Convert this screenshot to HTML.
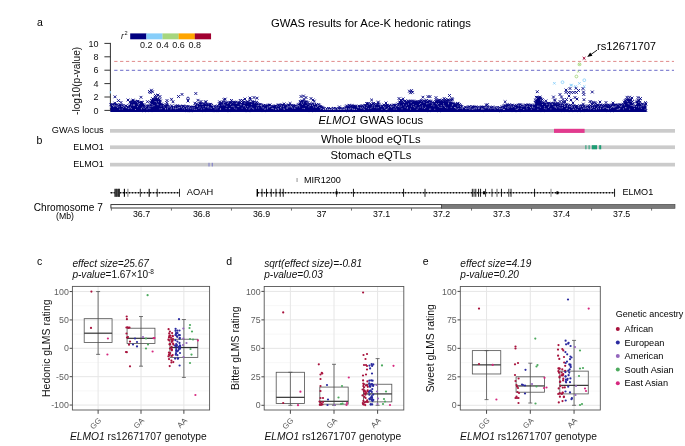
<!DOCTYPE html>
<html><head><meta charset="utf-8"><style>
html,body{margin:0;padding:0;background:#fff;overflow:hidden;width:685px;height:446px;}
svg{display:block;font-family:"Liberation Sans", sans-serif;filter:blur(0.3px);}
</style></head><body>
<svg width="685" height="446" viewBox="0 0 685 446">
<rect width="685" height="446" fill="#fff"/>
<text x="37.00" y="26.40" font-size="10.5" text-anchor="start" fill="#000" >a</text>
<text x="271.00" y="26.60" font-size="11.3" text-anchor="start" fill="#000" >GWAS results for Ace-K hedonic ratings</text>
<line x1="110.4" y1="42.90" x2="110.4" y2="110.90" stroke="#333" stroke-width="1"/>
<line x1="104.4" y1="110.40" x2="110.4" y2="110.40" stroke="#333" stroke-width="1"/>
<text x="98.50" y="113.60" font-size="9" text-anchor="end" fill="#111" >0</text>
<line x1="104.4" y1="97.00" x2="110.4" y2="97.00" stroke="#333" stroke-width="1"/>
<text x="98.50" y="100.20" font-size="9" text-anchor="end" fill="#111" >2</text>
<line x1="104.4" y1="83.60" x2="110.4" y2="83.60" stroke="#333" stroke-width="1"/>
<text x="98.50" y="86.80" font-size="9" text-anchor="end" fill="#111" >4</text>
<line x1="104.4" y1="70.20" x2="110.4" y2="70.20" stroke="#333" stroke-width="1"/>
<text x="98.50" y="73.40" font-size="9" text-anchor="end" fill="#111" >6</text>
<line x1="104.4" y1="56.80" x2="110.4" y2="56.80" stroke="#333" stroke-width="1"/>
<text x="98.50" y="60.00" font-size="9" text-anchor="end" fill="#111" >8</text>
<line x1="104.4" y1="43.40" x2="110.4" y2="43.40" stroke="#333" stroke-width="1"/>
<text x="98.50" y="46.60" font-size="9" text-anchor="end" fill="#111" >10</text>
<text transform="translate(80.2,80.9) rotate(-90)" font-size="10.15" text-anchor="middle" fill="#111">-log10(p-value)</text>
<line x1="114.2" y1="61.4" x2="674" y2="61.4" stroke="#e08a8a" stroke-width="1" stroke-dasharray="3.3 2.57"/>
<line x1="114.2" y1="70.3" x2="674" y2="70.3" stroke="#6b6bc8" stroke-width="1" stroke-dasharray="3.3 2.57"/>
<rect x="130.20" y="33.4" width="16.25" height="5.9" fill="#000080"/>
<rect x="146.35" y="33.4" width="16.25" height="5.9" fill="#87cefa"/>
<rect x="162.50" y="33.4" width="16.25" height="5.9" fill="#a6d67e"/>
<rect x="178.65" y="33.4" width="16.25" height="5.9" fill="#ffa500"/>
<rect x="194.80" y="33.4" width="16.25" height="5.9" fill="#a00030"/>
<text x="146.30" y="47.90" font-size="9.0" text-anchor="middle" fill="#111" >0.2</text>
<text x="162.45" y="47.90" font-size="9.0" text-anchor="middle" fill="#111" >0.4</text>
<text x="178.60" y="47.90" font-size="9.0" text-anchor="middle" fill="#111" >0.6</text>
<text x="194.75" y="47.90" font-size="9.0" text-anchor="middle" fill="#111" >0.8</text>
<text x="121" y="38.8" font-size="8.6" font-style="italic" fill="#111">r</text>
<text x="124.6" y="35.2" font-size="5.6" fill="#111">2</text>
<polygon points="110.5,105.8 111.5,105.8 112.5,105.8 113.5,105.8 114.5,105.8 115.5,105.8 116.5,105.8 117.5,105.8 118.5,105.8 119.5,105.8 120.5,105.8 121.5,105.8 122.5,105.8 123.5,106.4 124.5,107.0 125.5,107.0 126.5,107.0 127.5,107.0 128.5,107.0 129.5,104.8 130.5,102.5 131.5,102.5 132.5,102.5 133.5,102.5 134.5,102.5 135.5,102.5 136.5,102.5 137.5,102.5 138.5,102.5 139.5,102.5 140.5,102.5 141.5,102.5 142.5,102.5 143.5,104.5 144.5,106.6 145.5,106.6 146.5,106.6 147.5,106.6 148.5,106.6 149.5,106.6 150.5,103.3 151.5,99.9 152.5,99.8 153.5,99.7 154.5,99.6 155.5,99.7 156.5,99.8 157.5,99.8 158.5,99.9 159.5,100.0 160.5,101.3 161.5,104.0 162.5,105.4 163.5,105.5 164.5,105.6 165.5,105.7 166.5,105.8 167.5,105.9 168.5,106.5 169.5,107.1 170.5,107.1 171.5,107.1 172.5,107.1 173.5,107.1 174.5,107.1 175.5,107.1 176.5,107.1 177.5,107.1 178.5,107.1 179.5,107.1 180.5,107.1 181.5,107.1 182.5,107.1 183.5,107.1 184.5,107.1 185.5,107.1 186.5,107.1 187.5,107.1 188.5,107.1 189.5,107.1 190.5,107.1 191.5,107.1 192.5,107.1 193.5,107.1 194.5,107.1 195.5,106.0 196.5,104.9 197.5,104.9 198.5,104.9 199.5,104.9 200.5,104.9 201.5,104.9 202.5,104.9 203.5,104.9 204.5,104.9 205.5,104.9 206.5,104.9 207.5,104.9 208.5,104.9 209.5,104.9 210.5,104.9 211.5,104.9 212.5,106.2 213.5,107.5 214.5,107.5 215.5,107.5 216.5,107.5 217.5,107.5 218.5,105.3 219.5,103.1 220.5,103.2 221.5,103.2 222.5,103.3 223.5,103.3 224.5,103.4 225.5,103.5 226.5,103.5 227.5,103.6 228.5,103.6 229.5,103.6 230.5,103.6 231.5,103.6 232.5,103.6 233.5,103.6 234.5,103.6 235.5,103.6 236.5,103.5 237.5,103.5 238.5,103.5 239.5,103.4 240.5,103.4 241.5,103.3 242.5,103.3 243.5,103.3 244.5,103.2 245.5,103.2 246.5,103.1 247.5,103.1 248.5,103.1 249.5,103.0 250.5,103.0 251.5,102.8 252.5,102.8 253.5,102.7 254.5,102.5 255.5,102.8 256.5,103.4 257.5,104.0 258.5,104.6 259.5,105.2 260.5,105.7 261.5,106.0 262.5,106.2 263.5,106.2 264.5,106.2 265.5,106.2 266.5,106.2 267.5,106.2 268.5,106.2 269.5,106.2 270.5,106.2 271.5,106.2 272.5,106.2 273.5,106.2 274.5,106.2 275.5,106.2 276.5,106.2 277.5,106.2 278.5,106.2 279.5,106.2 280.5,106.2 281.5,106.2 282.5,106.2 283.5,106.2 284.5,106.2 285.5,106.2 286.5,106.2 287.5,106.2 288.5,106.2 289.5,106.3 290.5,106.4 291.5,106.5 292.5,106.6 293.5,106.7 294.5,106.8 295.5,106.9 296.5,107.0 297.5,106.2 298.5,104.7 299.5,103.1 300.5,102.3 301.5,102.3 302.5,102.3 303.5,102.3 304.5,102.3 305.5,102.3 306.5,102.3 307.5,102.8 308.5,104.0 309.5,104.5 310.5,104.6 311.5,104.7 312.5,104.8 313.5,104.9 314.5,105.0 315.5,105.2 316.5,105.6 317.5,105.8 318.5,105.8 319.5,105.8 320.5,105.8 321.5,106.8 322.5,108.7 323.5,109.7 324.5,109.7 325.5,109.7 326.5,109.7 327.5,109.7 328.5,109.7 329.5,109.6 330.5,109.6 331.5,109.6 332.5,109.6 333.5,109.6 334.5,109.6 335.5,109.6 336.5,109.6 337.5,109.6 338.5,109.6 339.5,109.5 340.5,109.5 341.5,109.5 342.5,109.5 343.5,109.5 344.5,109.5 345.5,108.8 346.5,107.3 347.5,106.6 348.5,106.6 349.5,106.6 350.5,106.6 351.5,106.6 352.5,106.6 353.5,106.6 354.5,106.6 355.5,106.6 356.5,106.6 357.5,106.6 358.5,106.6 359.5,106.6 360.5,106.6 361.5,106.6 362.5,106.6 363.5,106.6 364.5,106.0 365.5,105.0 366.5,104.4 367.5,104.4 368.5,104.4 369.5,104.4 370.5,104.4 371.5,104.4 372.5,104.4 373.5,104.4 374.5,104.4 375.5,104.4 376.5,104.4 377.5,104.4 378.5,104.4 379.5,104.9 380.5,105.8 381.5,106.2 382.5,106.2 383.5,106.2 384.5,106.2 385.5,106.2 386.5,106.2 387.5,106.2 388.5,106.2 389.5,106.2 390.5,106.2 391.5,106.2 392.5,106.2 393.5,106.2 394.5,106.2 395.5,106.2 396.5,106.2 397.5,105.4 398.5,103.9 399.5,103.0 400.5,102.9 401.5,102.8 402.5,102.7 403.5,102.5 404.5,102.4 405.5,102.3 406.5,102.2 407.5,102.1 408.5,102.0 409.5,102.0 410.5,102.0 411.5,101.9 412.5,101.9 413.5,101.9 414.5,101.9 415.5,101.9 416.5,101.8 417.5,101.8 418.5,101.8 419.5,101.8 420.5,101.8 421.5,101.8 422.5,101.7 423.5,101.7 424.5,101.7 425.5,101.7 426.5,101.7 427.5,101.6 428.5,101.6 429.5,101.6 430.5,102.2 431.5,103.4 432.5,104.0 433.5,104.0 434.5,104.0 435.5,103.3 436.5,101.9 437.5,101.2 438.5,101.2 439.5,101.2 440.5,101.2 441.5,101.2 442.5,101.2 443.5,101.2 444.5,101.2 445.5,101.2 446.5,101.2 447.5,101.2 448.5,101.2 449.5,101.2 450.5,101.2 451.5,102.0 452.5,103.6 453.5,104.5 454.5,104.6 455.5,104.7 456.5,104.8 457.5,104.8 458.5,105.0 459.5,105.6 460.5,106.9 461.5,107.5 462.5,107.7 463.5,107.8 464.5,107.8 465.5,108.0 466.5,108.0 467.5,108.0 468.5,108.0 469.5,108.0 470.5,108.0 471.5,108.0 472.5,108.0 473.5,108.0 474.5,108.0 475.5,108.1 476.5,108.1 477.5,108.1 478.5,108.1 479.5,108.1 480.5,108.1 481.5,108.1 482.5,108.1 483.5,108.1 484.5,108.1 485.5,108.1 486.5,108.1 487.5,108.1 488.5,108.1 489.5,108.1 490.5,108.1 491.5,108.1 492.5,108.1 493.5,108.1 494.5,108.2 495.5,108.2 496.5,108.2 497.5,108.2 498.5,108.2 499.5,108.2 500.5,108.2 501.5,108.2 502.5,108.2 503.5,107.6 504.5,106.4 505.5,105.8 506.5,105.8 507.5,105.8 508.5,105.9 509.5,105.9 510.5,105.9 511.5,105.9 512.5,105.9 513.5,105.9 514.5,106.0 515.5,106.0 516.5,106.0 517.5,106.0 518.5,106.0 519.5,106.0 520.5,106.1 521.5,106.1 522.5,106.1 523.5,106.1 524.5,106.1 525.5,106.2 526.5,106.2 527.5,106.2 528.5,106.2 529.5,106.2 530.5,106.2 531.5,106.3 532.5,106.3 533.5,106.3 534.5,104.5 535.5,100.8 536.5,98.8 537.5,98.2 538.5,97.8 539.5,97.9 540.5,98.6 541.5,99.8 542.5,101.2 543.5,102.8 544.5,104.2 545.5,104.9 546.5,104.8 547.5,104.6 548.5,104.5 549.5,104.4 550.5,104.2 551.5,104.1 552.5,104.1 553.5,104.2 554.5,104.3 555.5,104.4 556.5,104.6 557.5,104.7 558.5,104.8 559.5,104.9 560.5,105.1 561.5,105.2 562.5,105.4 563.5,105.6 564.5,105.8 565.5,105.9 566.5,106.1 567.5,106.2 568.5,106.4 569.5,106.6 570.5,106.8 571.5,106.9 572.5,107.0 573.5,107.0 574.5,107.0 575.5,107.0 576.5,107.0 577.5,107.0 578.5,107.0 579.5,107.0 580.5,107.0 581.5,107.0 582.5,107.0 583.5,107.0 584.5,107.0 585.5,107.0 586.5,107.0 587.5,107.0 588.5,107.0 589.5,106.9 590.5,106.9 591.5,106.8 592.5,106.8 593.5,106.7 594.5,106.7 595.5,106.6 596.5,106.6 597.5,106.5 598.5,106.5 599.5,106.4 600.5,106.4 601.5,106.4 602.5,106.4 603.5,106.4 604.5,106.4 605.5,106.4 606.5,106.3 607.5,106.3 608.5,106.3 609.5,106.3 610.5,106.3 611.5,106.3 612.5,106.3 613.5,106.3 614.5,106.3 615.5,106.3 616.5,106.2 617.5,106.2 618.5,106.2 619.5,106.2 620.5,106.2 621.5,106.2 622.5,105.4 623.5,103.8 624.5,102.5 625.5,101.5 626.5,101.0 627.5,101.1 628.5,101.2 629.5,101.3 630.5,101.4 631.5,101.5 632.5,102.9 633.5,105.6 634.5,106.8 635.5,106.2 636.5,103.5 637.5,101.1 638.5,101.2 639.5,101.4 640.5,103.4 641.5,105.3 642.5,105.3 643.5,105.3 644.5,105.3 645.5,105.3 646.5,105.3 646.5,111.9 110.5,111.9" fill="#000080"/>
<path d="M109.5 103.3l2.8 2.8m0 -2.8l-2.8 2.8M110.5 103.7l2.8 2.8m0 -2.8l-2.8 2.8M110.5 108.7l2.8 2.8m0 -2.8l-2.8 2.8M111.1 103.2l2.8 2.8m0 -2.8l-2.8 2.8M112.0 103.4l2.8 2.8m0 -2.8l-2.8 2.8M113.3 103.8l2.8 2.8m0 -2.8l-2.8 2.8M113.5 101.7l2.8 2.8m0 -2.8l-2.8 2.8M113.8 103.2l2.8 2.8m0 -2.8l-2.8 2.8M114.4 108.8l2.8 2.8m0 -2.8l-2.8 2.8M115.1 103.7l2.8 2.8m0 -2.8l-2.8 2.8M115.5 103.4l2.8 2.8m0 -2.8l-2.8 2.8M116.7 104.2l2.8 2.8m0 -2.8l-2.8 2.8M117.9 104.4l2.8 2.8m0 -2.8l-2.8 2.8M117.8 109.0l2.8 2.8m0 -2.8l-2.8 2.8M118.8 103.6l2.8 2.8m0 -2.8l-2.8 2.8M119.4 104.5l2.8 2.8m0 -2.8l-2.8 2.8M119.5 108.7l2.8 2.8m0 -2.8l-2.8 2.8M120.6 104.1l2.8 2.8m0 -2.8l-2.8 2.8M121.5 104.2l2.8 2.8m0 -2.8l-2.8 2.8M122.5 105.6l2.8 2.8m0 -2.8l-2.8 2.8M122.7 105.6l2.8 2.8m0 -2.8l-2.8 2.8M124.3 104.8l2.8 2.8m0 -2.8l-2.8 2.8M124.1 108.7l2.8 2.8m0 -2.8l-2.8 2.8M124.6 104.4l2.8 2.8m0 -2.8l-2.8 2.8M125.1 108.8l2.8 2.8m0 -2.8l-2.8 2.8M125.7 105.9l2.8 2.8m0 -2.8l-2.8 2.8M125.8 109.0l2.8 2.8m0 -2.8l-2.8 2.8M127.0 105.9l2.8 2.8m0 -2.8l-2.8 2.8M126.6 108.9l2.8 2.8m0 -2.8l-2.8 2.8M128.0 104.5l2.8 2.8m0 -2.8l-2.8 2.8M127.4 108.8l2.8 2.8m0 -2.8l-2.8 2.8M128.6 100.7l2.8 2.8m0 -2.8l-2.8 2.8M128.4 108.9l2.8 2.8m0 -2.8l-2.8 2.8M129.8 101.1l2.8 2.8m0 -2.8l-2.8 2.8M130.4 99.8l2.8 2.8m0 -2.8l-2.8 2.8M131.5 101.3l2.8 2.8m0 -2.8l-2.8 2.8M131.1 108.8l2.8 2.8m0 -2.8l-2.8 2.8M131.7 99.8l2.8 2.8m0 -2.8l-2.8 2.8M131.8 108.9l2.8 2.8m0 -2.8l-2.8 2.8M131.7 98.7l2.8 2.8m0 -2.8l-2.8 2.8M132.7 100.4l2.8 2.8m0 -2.8l-2.8 2.8M133.3 109.1l2.8 2.8m0 -2.8l-2.8 2.8M133.7 100.4l2.8 2.8m0 -2.8l-2.8 2.8M133.6 109.2l2.8 2.8m0 -2.8l-2.8 2.8M134.8 100.7l2.8 2.8m0 -2.8l-2.8 2.8M134.5 108.9l2.8 2.8m0 -2.8l-2.8 2.8M136.0 100.0l2.8 2.8m0 -2.8l-2.8 2.8M136.1 109.0l2.8 2.8m0 -2.8l-2.8 2.8M136.6 99.8l2.8 2.8m0 -2.8l-2.8 2.8M137.8 101.1l2.8 2.8m0 -2.8l-2.8 2.8M137.4 108.8l2.8 2.8m0 -2.8l-2.8 2.8M138.4 101.3l2.8 2.8m0 -2.8l-2.8 2.8M138.2 109.2l2.8 2.8m0 -2.8l-2.8 2.8M139.6 101.3l2.8 2.8m0 -2.8l-2.8 2.8M140.0 100.7l2.8 2.8m0 -2.8l-2.8 2.8M139.8 108.7l2.8 2.8m0 -2.8l-2.8 2.8M140.9 101.1l2.8 2.8m0 -2.8l-2.8 2.8M142.3 103.3l2.8 2.8m0 -2.8l-2.8 2.8M142.7 104.3l2.8 2.8m0 -2.8l-2.8 2.8M142.7 109.1l2.8 2.8m0 -2.8l-2.8 2.8M144.1 104.8l2.8 2.8m0 -2.8l-2.8 2.8M144.4 105.1l2.8 2.8m0 -2.8l-2.8 2.8M145.8 104.8l2.8 2.8m0 -2.8l-2.8 2.8M145.8 108.9l2.8 2.8m0 -2.8l-2.8 2.8M146.9 104.6l2.8 2.8m0 -2.8l-2.8 2.8M147.6 104.1l2.8 2.8m0 -2.8l-2.8 2.8M147.1 109.2l2.8 2.8m0 -2.8l-2.8 2.8M148.0 105.5l2.8 2.8m0 -2.8l-2.8 2.8M149.1 100.9l2.8 2.8m0 -2.8l-2.8 2.8M148.8 109.3l2.8 2.8m0 -2.8l-2.8 2.8M150.1 99.0l2.8 2.8m0 -2.8l-2.8 2.8M151.3 97.4l2.8 2.8m0 -2.8l-2.8 2.8M150.8 108.8l2.8 2.8m0 -2.8l-2.8 2.8M151.7 97.7l2.8 2.8m0 -2.8l-2.8 2.8M152.2 108.9l2.8 2.8m0 -2.8l-2.8 2.8M152.9 98.6l2.8 2.8m0 -2.8l-2.8 2.8M153.7 97.9l2.8 2.8m0 -2.8l-2.8 2.8M153.7 95.8l2.8 2.8m0 -2.8l-2.8 2.8M154.2 98.5l2.8 2.8m0 -2.8l-2.8 2.8M154.6 109.1l2.8 2.8m0 -2.8l-2.8 2.8M155.4 98.0l2.8 2.8m0 -2.8l-2.8 2.8M156.1 98.2l2.8 2.8m0 -2.8l-2.8 2.8M156.2 109.2l2.8 2.8m0 -2.8l-2.8 2.8M157.3 98.6l2.8 2.8m0 -2.8l-2.8 2.8M158.3 98.2l2.8 2.8m0 -2.8l-2.8 2.8M159.1 99.6l2.8 2.8m0 -2.8l-2.8 2.8M160.2 102.7l2.8 2.8m0 -2.8l-2.8 2.8M160.9 104.4l2.8 2.8m0 -2.8l-2.8 2.8M161.5 103.5l2.8 2.8m0 -2.8l-2.8 2.8M161.6 108.7l2.8 2.8m0 -2.8l-2.8 2.8M162.9 104.5l2.8 2.8m0 -2.8l-2.8 2.8M162.9 109.1l2.8 2.8m0 -2.8l-2.8 2.8M163.9 104.8l2.8 2.8m0 -2.8l-2.8 2.8M164.0 108.9l2.8 2.8m0 -2.8l-2.8 2.8M164.9 104.6l2.8 2.8m0 -2.8l-2.8 2.8M164.4 109.0l2.8 2.8m0 -2.8l-2.8 2.8M165.2 103.7l2.8 2.8m0 -2.8l-2.8 2.8M165.4 101.4l2.8 2.8m0 -2.8l-2.8 2.8M165.9 103.8l2.8 2.8m0 -2.8l-2.8 2.8M166.9 105.8l2.8 2.8m0 -2.8l-2.8 2.8M167.8 104.8l2.8 2.8m0 -2.8l-2.8 2.8M168.3 108.9l2.8 2.8m0 -2.8l-2.8 2.8M168.9 106.1l2.8 2.8m0 -2.8l-2.8 2.8M169.6 106.1l2.8 2.8m0 -2.8l-2.8 2.8M170.5 104.4l2.8 2.8m0 -2.8l-2.8 2.8M171.4 106.2l2.8 2.8m0 -2.8l-2.8 2.8M172.3 106.0l2.8 2.8m0 -2.8l-2.8 2.8M172.9 109.0l2.8 2.8m0 -2.8l-2.8 2.8M173.5 106.2l2.8 2.8m0 -2.8l-2.8 2.8M173.2 109.0l2.8 2.8m0 -2.8l-2.8 2.8M174.1 104.6l2.8 2.8m0 -2.8l-2.8 2.8M174.2 108.9l2.8 2.8m0 -2.8l-2.8 2.8M175.5 104.9l2.8 2.8m0 -2.8l-2.8 2.8M176.1 104.3l2.8 2.8m0 -2.8l-2.8 2.8M175.8 109.1l2.8 2.8m0 -2.8l-2.8 2.8M176.9 105.2l2.8 2.8m0 -2.8l-2.8 2.8M178.3 105.2l2.8 2.8m0 -2.8l-2.8 2.8M178.8 105.3l2.8 2.8m0 -2.8l-2.8 2.8M179.7 106.0l2.8 2.8m0 -2.8l-2.8 2.8M180.6 105.0l2.8 2.8m0 -2.8l-2.8 2.8M180.4 108.7l2.8 2.8m0 -2.8l-2.8 2.8M181.4 104.6l2.8 2.8m0 -2.8l-2.8 2.8M181.9 109.2l2.8 2.8m0 -2.8l-2.8 2.8M182.3 104.8l2.8 2.8m0 -2.8l-2.8 2.8M182.5 108.8l2.8 2.8m0 -2.8l-2.8 2.8M183.2 106.2l2.8 2.8m0 -2.8l-2.8 2.8M184.1 106.2l2.8 2.8m0 -2.8l-2.8 2.8M184.2 108.7l2.8 2.8m0 -2.8l-2.8 2.8M185.2 105.3l2.8 2.8m0 -2.8l-2.8 2.8M185.2 108.7l2.8 2.8m0 -2.8l-2.8 2.8M185.8 105.1l2.8 2.8m0 -2.8l-2.8 2.8M185.7 108.9l2.8 2.8m0 -2.8l-2.8 2.8M187.1 105.4l2.8 2.8m0 -2.8l-2.8 2.8M188.1 106.1l2.8 2.8m0 -2.8l-2.8 2.8M187.8 109.3l2.8 2.8m0 -2.8l-2.8 2.8M189.0 105.6l2.8 2.8m0 -2.8l-2.8 2.8M189.1 109.2l2.8 2.8m0 -2.8l-2.8 2.8M189.9 105.9l2.8 2.8m0 -2.8l-2.8 2.8M189.7 109.0l2.8 2.8m0 -2.8l-2.8 2.8M190.8 106.0l2.8 2.8m0 -2.8l-2.8 2.8M191.6 105.7l2.8 2.8m0 -2.8l-2.8 2.8M191.1 108.8l2.8 2.8m0 -2.8l-2.8 2.8M192.1 106.0l2.8 2.8m0 -2.8l-2.8 2.8M193.4 105.7l2.8 2.8m0 -2.8l-2.8 2.8M193.5 101.8l2.8 2.8m0 -2.8l-2.8 2.8M194.2 104.1l2.8 2.8m0 -2.8l-2.8 2.8M195.3 102.6l2.8 2.8m0 -2.8l-2.8 2.8M194.9 109.1l2.8 2.8m0 -2.8l-2.8 2.8M196.2 104.1l2.8 2.8m0 -2.8l-2.8 2.8M196.9 103.5l2.8 2.8m0 -2.8l-2.8 2.8M197.9 102.3l2.8 2.8m0 -2.8l-2.8 2.8M197.6 109.1l2.8 2.8m0 -2.8l-2.8 2.8M198.8 102.1l2.8 2.8m0 -2.8l-2.8 2.8M198.5 109.1l2.8 2.8m0 -2.8l-2.8 2.8M199.7 102.7l2.8 2.8m0 -2.8l-2.8 2.8M200.5 102.3l2.8 2.8m0 -2.8l-2.8 2.8M201.8 104.0l2.8 2.8m0 -2.8l-2.8 2.8M201.4 109.2l2.8 2.8m0 -2.8l-2.8 2.8M202.3 102.6l2.8 2.8m0 -2.8l-2.8 2.8M202.7 108.8l2.8 2.8m0 -2.8l-2.8 2.8M202.9 103.1l2.8 2.8m0 -2.8l-2.8 2.8M204.4 103.1l2.8 2.8m0 -2.8l-2.8 2.8M204.8 103.9l2.8 2.8m0 -2.8l-2.8 2.8M204.6 100.3l2.8 2.8m0 -2.8l-2.8 2.8M205.9 102.7l2.8 2.8m0 -2.8l-2.8 2.8M205.8 108.9l2.8 2.8m0 -2.8l-2.8 2.8M206.4 103.6l2.8 2.8m0 -2.8l-2.8 2.8M208.0 103.5l2.8 2.8m0 -2.8l-2.8 2.8M208.5 102.9l2.8 2.8m0 -2.8l-2.8 2.8M209.4 103.0l2.8 2.8m0 -2.8l-2.8 2.8M209.1 108.8l2.8 2.8m0 -2.8l-2.8 2.8M210.2 104.0l2.8 2.8m0 -2.8l-2.8 2.8M210.2 109.0l2.8 2.8m0 -2.8l-2.8 2.8M211.2 105.8l2.8 2.8m0 -2.8l-2.8 2.8M212.3 106.5l2.8 2.8m0 -2.8l-2.8 2.8M213.3 104.8l2.8 2.8m0 -2.8l-2.8 2.8M214.2 106.0l2.8 2.8m0 -2.8l-2.8 2.8M213.6 109.3l2.8 2.8m0 -2.8l-2.8 2.8M214.9 105.4l2.8 2.8m0 -2.8l-2.8 2.8M215.1 109.3l2.8 2.8m0 -2.8l-2.8 2.8M215.9 105.3l2.8 2.8m0 -2.8l-2.8 2.8M216.4 104.6l2.8 2.8m0 -2.8l-2.8 2.8M217.0 109.0l2.8 2.8m0 -2.8l-2.8 2.8M217.9 102.3l2.8 2.8m0 -2.8l-2.8 2.8M218.3 100.5l2.8 2.8m0 -2.8l-2.8 2.8M218.2 108.8l2.8 2.8m0 -2.8l-2.8 2.8M219.5 102.2l2.8 2.8m0 -2.8l-2.8 2.8M220.2 101.5l2.8 2.8m0 -2.8l-2.8 2.8M220.2 108.7l2.8 2.8m0 -2.8l-2.8 2.8M221.6 100.8l2.8 2.8m0 -2.8l-2.8 2.8M222.4 101.0l2.8 2.8m0 -2.8l-2.8 2.8M221.9 108.9l2.8 2.8m0 -2.8l-2.8 2.8M223.4 102.3l2.8 2.8m0 -2.8l-2.8 2.8M222.6 98.2l2.8 2.8m0 -2.8l-2.8 2.8M224.2 101.6l2.8 2.8m0 -2.8l-2.8 2.8M223.8 97.7l2.8 2.8m0 -2.8l-2.8 2.8M225.1 102.4l2.8 2.8m0 -2.8l-2.8 2.8M225.4 101.1l2.8 2.8m0 -2.8l-2.8 2.8M227.0 102.2l2.8 2.8m0 -2.8l-2.8 2.8M227.5 101.9l2.8 2.8m0 -2.8l-2.8 2.8M227.7 108.8l2.8 2.8m0 -2.8l-2.8 2.8M228.5 101.4l2.8 2.8m0 -2.8l-2.8 2.8M228.2 109.1l2.8 2.8m0 -2.8l-2.8 2.8M229.0 100.9l2.8 2.8m0 -2.8l-2.8 2.8M230.1 101.2l2.8 2.8m0 -2.8l-2.8 2.8M230.0 99.0l2.8 2.8m0 -2.8l-2.8 2.8M231.5 102.1l2.8 2.8m0 -2.8l-2.8 2.8M231.8 101.3l2.8 2.8m0 -2.8l-2.8 2.8M232.7 100.8l2.8 2.8m0 -2.8l-2.8 2.8M233.7 101.3l2.8 2.8m0 -2.8l-2.8 2.8M234.5 100.8l2.8 2.8m0 -2.8l-2.8 2.8M234.6 109.1l2.8 2.8m0 -2.8l-2.8 2.8M235.8 102.2l2.8 2.8m0 -2.8l-2.8 2.8M236.9 101.3l2.8 2.8m0 -2.8l-2.8 2.8M237.2 102.2l2.8 2.8m0 -2.8l-2.8 2.8M237.8 109.0l2.8 2.8m0 -2.8l-2.8 2.8M238.1 101.4l2.8 2.8m0 -2.8l-2.8 2.8M238.9 101.4l2.8 2.8m0 -2.8l-2.8 2.8M239.6 108.8l2.8 2.8m0 -2.8l-2.8 2.8M238.8 99.0l2.8 2.8m0 -2.8l-2.8 2.8M240.4 102.3l2.8 2.8m0 -2.8l-2.8 2.8M241.3 101.2l2.8 2.8m0 -2.8l-2.8 2.8M241.3 109.1l2.8 2.8m0 -2.8l-2.8 2.8M241.1 99.0l2.8 2.8m0 -2.8l-2.8 2.8M241.8 101.1l2.8 2.8m0 -2.8l-2.8 2.8M241.5 108.9l2.8 2.8m0 -2.8l-2.8 2.8M243.2 100.7l2.8 2.8m0 -2.8l-2.8 2.8M243.6 102.0l2.8 2.8m0 -2.8l-2.8 2.8M244.2 101.3l2.8 2.8m0 -2.8l-2.8 2.8M244.9 108.8l2.8 2.8m0 -2.8l-2.8 2.8M245.8 100.4l2.8 2.8m0 -2.8l-2.8 2.8M246.6 100.4l2.8 2.8m0 -2.8l-2.8 2.8M246.1 109.3l2.8 2.8m0 -2.8l-2.8 2.8M247.5 102.0l2.8 2.8m0 -2.8l-2.8 2.8M247.1 109.3l2.8 2.8m0 -2.8l-2.8 2.8M248.0 101.6l2.8 2.8m0 -2.8l-2.8 2.8M248.0 108.7l2.8 2.8m0 -2.8l-2.8 2.8M249.4 101.4l2.8 2.8m0 -2.8l-2.8 2.8M248.9 98.4l2.8 2.8m0 -2.8l-2.8 2.8M250.4 102.0l2.8 2.8m0 -2.8l-2.8 2.8M249.8 109.0l2.8 2.8m0 -2.8l-2.8 2.8M251.2 100.3l2.8 2.8m0 -2.8l-2.8 2.8M252.1 101.4l2.8 2.8m0 -2.8l-2.8 2.8M252.6 100.5l2.8 2.8m0 -2.8l-2.8 2.8M253.4 101.2l2.8 2.8m0 -2.8l-2.8 2.8M253.3 108.7l2.8 2.8m0 -2.8l-2.8 2.8M254.4 102.2l2.8 2.8m0 -2.8l-2.8 2.8M255.2 100.9l2.8 2.8m0 -2.8l-2.8 2.8M255.4 109.1l2.8 2.8m0 -2.8l-2.8 2.8M256.1 102.2l2.8 2.8m0 -2.8l-2.8 2.8M257.4 103.6l2.8 2.8m0 -2.8l-2.8 2.8M258.4 103.0l2.8 2.8m0 -2.8l-2.8 2.8M259.2 103.2l2.8 2.8m0 -2.8l-2.8 2.8M258.8 108.8l2.8 2.8m0 -2.8l-2.8 2.8M260.0 103.8l2.8 2.8m0 -2.8l-2.8 2.8M260.3 109.0l2.8 2.8m0 -2.8l-2.8 2.8M261.0 104.7l2.8 2.8m0 -2.8l-2.8 2.8M261.7 105.0l2.8 2.8m0 -2.8l-2.8 2.8M262.2 104.0l2.8 2.8m0 -2.8l-2.8 2.8M262.4 109.3l2.8 2.8m0 -2.8l-2.8 2.8M263.8 104.1l2.8 2.8m0 -2.8l-2.8 2.8M264.2 105.0l2.8 2.8m0 -2.8l-2.8 2.8M265.4 104.6l2.8 2.8m0 -2.8l-2.8 2.8M265.2 108.8l2.8 2.8m0 -2.8l-2.8 2.8M266.0 104.6l2.8 2.8m0 -2.8l-2.8 2.8M266.7 104.1l2.8 2.8m0 -2.8l-2.8 2.8M267.8 103.8l2.8 2.8m0 -2.8l-2.8 2.8M268.6 103.6l2.8 2.8m0 -2.8l-2.8 2.8M268.9 109.1l2.8 2.8m0 -2.8l-2.8 2.8M269.5 104.8l2.8 2.8m0 -2.8l-2.8 2.8M270.5 105.3l2.8 2.8m0 -2.8l-2.8 2.8M270.8 108.9l2.8 2.8m0 -2.8l-2.8 2.8M271.9 105.4l2.8 2.8m0 -2.8l-2.8 2.8M271.4 109.1l2.8 2.8m0 -2.8l-2.8 2.8M272.1 105.2l2.8 2.8m0 -2.8l-2.8 2.8M273.3 105.2l2.8 2.8m0 -2.8l-2.8 2.8M273.9 104.5l2.8 2.8m0 -2.8l-2.8 2.8M274.9 104.6l2.8 2.8m0 -2.8l-2.8 2.8M275.2 108.8l2.8 2.8m0 -2.8l-2.8 2.8M276.1 105.3l2.8 2.8m0 -2.8l-2.8 2.8M276.1 109.2l2.8 2.8m0 -2.8l-2.8 2.8M276.8 103.7l2.8 2.8m0 -2.8l-2.8 2.8M277.9 103.5l2.8 2.8m0 -2.8l-2.8 2.8M279.1 104.6l2.8 2.8m0 -2.8l-2.8 2.8M279.9 103.8l2.8 2.8m0 -2.8l-2.8 2.8M280.9 103.8l2.8 2.8m0 -2.8l-2.8 2.8M280.5 109.0l2.8 2.8m0 -2.8l-2.8 2.8M281.2 103.9l2.8 2.8m0 -2.8l-2.8 2.8M282.0 104.5l2.8 2.8m0 -2.8l-2.8 2.8M282.7 102.5l2.8 2.8m0 -2.8l-2.8 2.8M283.4 104.5l2.8 2.8m0 -2.8l-2.8 2.8M284.1 104.6l2.8 2.8m0 -2.8l-2.8 2.8M285.1 104.3l2.8 2.8m0 -2.8l-2.8 2.8M285.2 109.0l2.8 2.8m0 -2.8l-2.8 2.8M286.2 105.0l2.8 2.8m0 -2.8l-2.8 2.8M286.9 103.6l2.8 2.8m0 -2.8l-2.8 2.8M286.8 108.8l2.8 2.8m0 -2.8l-2.8 2.8M287.8 103.6l2.8 2.8m0 -2.8l-2.8 2.8M288.9 105.1l2.8 2.8m0 -2.8l-2.8 2.8M288.7 102.0l2.8 2.8m0 -2.8l-2.8 2.8M290.0 103.9l2.8 2.8m0 -2.8l-2.8 2.8M290.7 105.4l2.8 2.8m0 -2.8l-2.8 2.8M290.9 109.0l2.8 2.8m0 -2.8l-2.8 2.8M291.7 104.2l2.8 2.8m0 -2.8l-2.8 2.8M292.0 104.6l2.8 2.8m0 -2.8l-2.8 2.8M293.5 104.5l2.8 2.8m0 -2.8l-2.8 2.8M294.1 105.9l2.8 2.8m0 -2.8l-2.8 2.8M293.9 109.0l2.8 2.8m0 -2.8l-2.8 2.8M294.6 104.5l2.8 2.8m0 -2.8l-2.8 2.8M295.3 109.1l2.8 2.8m0 -2.8l-2.8 2.8M295.6 105.3l2.8 2.8m0 -2.8l-2.8 2.8M295.9 109.1l2.8 2.8m0 -2.8l-2.8 2.8M297.1 103.5l2.8 2.8m0 -2.8l-2.8 2.8M297.4 102.9l2.8 2.8m0 -2.8l-2.8 2.8M298.8 100.0l2.8 2.8m0 -2.8l-2.8 2.8M299.4 101.0l2.8 2.8m0 -2.8l-2.8 2.8M300.6 99.6l2.8 2.8m0 -2.8l-2.8 2.8M301.4 101.5l2.8 2.8m0 -2.8l-2.8 2.8M302.1 99.5l2.8 2.8m0 -2.8l-2.8 2.8M301.9 109.1l2.8 2.8m0 -2.8l-2.8 2.8M303.1 101.3l2.8 2.8m0 -2.8l-2.8 2.8M302.9 109.1l2.8 2.8m0 -2.8l-2.8 2.8M302.7 98.0l2.8 2.8m0 -2.8l-2.8 2.8M303.7 100.2l2.8 2.8m0 -2.8l-2.8 2.8M304.1 109.1l2.8 2.8m0 -2.8l-2.8 2.8M305.0 100.4l2.8 2.8m0 -2.8l-2.8 2.8M305.2 108.8l2.8 2.8m0 -2.8l-2.8 2.8M305.5 101.0l2.8 2.8m0 -2.8l-2.8 2.8M306.6 101.2l2.8 2.8m0 -2.8l-2.8 2.8M306.8 109.0l2.8 2.8m0 -2.8l-2.8 2.8M307.7 102.6l2.8 2.8m0 -2.8l-2.8 2.8M308.3 103.6l2.8 2.8m0 -2.8l-2.8 2.8M308.5 108.9l2.8 2.8m0 -2.8l-2.8 2.8M309.0 103.4l2.8 2.8m0 -2.8l-2.8 2.8M309.4 109.3l2.8 2.8m0 -2.8l-2.8 2.8M310.1 103.1l2.8 2.8m0 -2.8l-2.8 2.8M311.5 102.3l2.8 2.8m0 -2.8l-2.8 2.8M311.0 108.7l2.8 2.8m0 -2.8l-2.8 2.8M312.3 103.5l2.8 2.8m0 -2.8l-2.8 2.8M312.4 109.1l2.8 2.8m0 -2.8l-2.8 2.8M313.2 103.1l2.8 2.8m0 -2.8l-2.8 2.8M312.7 108.8l2.8 2.8m0 -2.8l-2.8 2.8M312.9 99.7l2.8 2.8m0 -2.8l-2.8 2.8M314.1 104.0l2.8 2.8m0 -2.8l-2.8 2.8M314.8 103.6l2.8 2.8m0 -2.8l-2.8 2.8M315.5 104.3l2.8 2.8m0 -2.8l-2.8 2.8M316.9 103.0l2.8 2.8m0 -2.8l-2.8 2.8M316.4 109.1l2.8 2.8m0 -2.8l-2.8 2.8M317.7 103.7l2.8 2.8m0 -2.8l-2.8 2.8M318.2 104.8l2.8 2.8m0 -2.8l-2.8 2.8M319.4 105.0l2.8 2.8m0 -2.8l-2.8 2.8M320.4 105.9l2.8 2.8m0 -2.8l-2.8 2.8M321.2 106.5l2.8 2.8m0 -2.8l-2.8 2.8M321.2 108.7l2.8 2.8m0 -2.8l-2.8 2.8M321.7 107.0l2.8 2.8m0 -2.8l-2.8 2.8M322.3 108.9l2.8 2.8m0 -2.8l-2.8 2.8M322.5 107.0l2.8 2.8m0 -2.8l-2.8 2.8M324.0 108.4l2.8 2.8m0 -2.8l-2.8 2.8M323.9 108.9l2.8 2.8m0 -2.8l-2.8 2.8M325.0 108.7l2.8 2.8m0 -2.8l-2.8 2.8M325.0 109.2l2.8 2.8m0 -2.8l-2.8 2.8M325.3 107.3l2.8 2.8m0 -2.8l-2.8 2.8M325.2 109.2l2.8 2.8m0 -2.8l-2.8 2.8M326.6 108.5l2.8 2.8m0 -2.8l-2.8 2.8M327.1 107.0l2.8 2.8m0 -2.8l-2.8 2.8M328.2 107.7l2.8 2.8m0 -2.8l-2.8 2.8M328.1 108.9l2.8 2.8m0 -2.8l-2.8 2.8M329.1 107.5l2.8 2.8m0 -2.8l-2.8 2.8M330.4 108.1l2.8 2.8m0 -2.8l-2.8 2.8M330.0 109.0l2.8 2.8m0 -2.8l-2.8 2.8M330.9 108.2l2.8 2.8m0 -2.8l-2.8 2.8M332.2 107.0l2.8 2.8m0 -2.8l-2.8 2.8M332.4 107.2l2.8 2.8m0 -2.8l-2.8 2.8M333.3 107.8l2.8 2.8m0 -2.8l-2.8 2.8M334.3 107.8l2.8 2.8m0 -2.8l-2.8 2.8M334.9 108.9l2.8 2.8m0 -2.8l-2.8 2.8M335.3 107.2l2.8 2.8m0 -2.8l-2.8 2.8M336.1 108.0l2.8 2.8m0 -2.8l-2.8 2.8M336.6 109.1l2.8 2.8m0 -2.8l-2.8 2.8M337.4 107.5l2.8 2.8m0 -2.8l-2.8 2.8M338.5 106.9l2.8 2.8m0 -2.8l-2.8 2.8M338.0 105.5l2.8 2.8m0 -2.8l-2.8 2.8M339.4 107.7l2.8 2.8m0 -2.8l-2.8 2.8M339.4 108.8l2.8 2.8m0 -2.8l-2.8 2.8M340.0 108.2l2.8 2.8m0 -2.8l-2.8 2.8M340.8 107.4l2.8 2.8m0 -2.8l-2.8 2.8M341.2 109.1l2.8 2.8m0 -2.8l-2.8 2.8M341.5 107.6l2.8 2.8m0 -2.8l-2.8 2.8M342.4 107.6l2.8 2.8m0 -2.8l-2.8 2.8M343.4 107.3l2.8 2.8m0 -2.8l-2.8 2.8M344.2 105.7l2.8 2.8m0 -2.8l-2.8 2.8M344.4 109.0l2.8 2.8m0 -2.8l-2.8 2.8M345.3 104.5l2.8 2.8m0 -2.8l-2.8 2.8M346.0 105.7l2.8 2.8m0 -2.8l-2.8 2.8M346.2 109.3l2.8 2.8m0 -2.8l-2.8 2.8M347.4 104.7l2.8 2.8m0 -2.8l-2.8 2.8M347.3 108.8l2.8 2.8m0 -2.8l-2.8 2.8M348.0 103.9l2.8 2.8m0 -2.8l-2.8 2.8M348.3 109.1l2.8 2.8m0 -2.8l-2.8 2.8M349.1 104.7l2.8 2.8m0 -2.8l-2.8 2.8M349.1 108.9l2.8 2.8m0 -2.8l-2.8 2.8M350.2 104.7l2.8 2.8m0 -2.8l-2.8 2.8M350.7 104.3l2.8 2.8m0 -2.8l-2.8 2.8M351.9 105.2l2.8 2.8m0 -2.8l-2.8 2.8M352.7 104.7l2.8 2.8m0 -2.8l-2.8 2.8M352.7 108.8l2.8 2.8m0 -2.8l-2.8 2.8M353.7 105.2l2.8 2.8m0 -2.8l-2.8 2.8M354.3 104.7l2.8 2.8m0 -2.8l-2.8 2.8M355.4 105.7l2.8 2.8m0 -2.8l-2.8 2.8M355.4 109.2l2.8 2.8m0 -2.8l-2.8 2.8M356.2 105.7l2.8 2.8m0 -2.8l-2.8 2.8M356.2 108.8l2.8 2.8m0 -2.8l-2.8 2.8M357.5 104.8l2.8 2.8m0 -2.8l-2.8 2.8M357.2 109.0l2.8 2.8m0 -2.8l-2.8 2.8M358.0 105.1l2.8 2.8m0 -2.8l-2.8 2.8M358.8 105.7l2.8 2.8m0 -2.8l-2.8 2.8M359.0 108.9l2.8 2.8m0 -2.8l-2.8 2.8M359.5 105.8l2.8 2.8m0 -2.8l-2.8 2.8M359.4 108.9l2.8 2.8m0 -2.8l-2.8 2.8M360.3 104.6l2.8 2.8m0 -2.8l-2.8 2.8M361.5 104.3l2.8 2.8m0 -2.8l-2.8 2.8M361.8 109.3l2.8 2.8m0 -2.8l-2.8 2.8M362.3 105.4l2.8 2.8m0 -2.8l-2.8 2.8M362.3 108.8l2.8 2.8m0 -2.8l-2.8 2.8M363.6 104.2l2.8 2.8m0 -2.8l-2.8 2.8M364.1 103.9l2.8 2.8m0 -2.8l-2.8 2.8M364.4 109.2l2.8 2.8m0 -2.8l-2.8 2.8M365.2 102.2l2.8 2.8m0 -2.8l-2.8 2.8M366.4 102.3l2.8 2.8m0 -2.8l-2.8 2.8M366.9 102.1l2.8 2.8m0 -2.8l-2.8 2.8M367.5 103.0l2.8 2.8m0 -2.8l-2.8 2.8M367.7 108.9l2.8 2.8m0 -2.8l-2.8 2.8M368.7 102.9l2.8 2.8m0 -2.8l-2.8 2.8M370.0 103.3l2.8 2.8m0 -2.8l-2.8 2.8M370.0 109.2l2.8 2.8m0 -2.8l-2.8 2.8M370.3 103.3l2.8 2.8m0 -2.8l-2.8 2.8M370.2 98.6l2.8 2.8m0 -2.8l-2.8 2.8M371.6 102.1l2.8 2.8m0 -2.8l-2.8 2.8M371.2 108.8l2.8 2.8m0 -2.8l-2.8 2.8M372.3 101.9l2.8 2.8m0 -2.8l-2.8 2.8M373.0 103.4l2.8 2.8m0 -2.8l-2.8 2.8M374.3 103.4l2.8 2.8m0 -2.8l-2.8 2.8M374.9 103.0l2.8 2.8m0 -2.8l-2.8 2.8M376.0 103.4l2.8 2.8m0 -2.8l-2.8 2.8M376.7 101.9l2.8 2.8m0 -2.8l-2.8 2.8M376.9 100.6l2.8 2.8m0 -2.8l-2.8 2.8M377.8 102.8l2.8 2.8m0 -2.8l-2.8 2.8M378.3 104.3l2.8 2.8m0 -2.8l-2.8 2.8M379.7 105.1l2.8 2.8m0 -2.8l-2.8 2.8M379.5 109.3l2.8 2.8m0 -2.8l-2.8 2.8M380.6 104.7l2.8 2.8m0 -2.8l-2.8 2.8M380.6 109.1l2.8 2.8m0 -2.8l-2.8 2.8M381.3 105.4l2.8 2.8m0 -2.8l-2.8 2.8M382.6 103.5l2.8 2.8m0 -2.8l-2.8 2.8M383.1 105.1l2.8 2.8m0 -2.8l-2.8 2.8M383.2 109.0l2.8 2.8m0 -2.8l-2.8 2.8M383.9 104.3l2.8 2.8m0 -2.8l-2.8 2.8M385.3 104.0l2.8 2.8m0 -2.8l-2.8 2.8M385.9 103.9l2.8 2.8m0 -2.8l-2.8 2.8M386.9 105.0l2.8 2.8m0 -2.8l-2.8 2.8M386.7 108.9l2.8 2.8m0 -2.8l-2.8 2.8M387.8 105.0l2.8 2.8m0 -2.8l-2.8 2.8M387.9 109.2l2.8 2.8m0 -2.8l-2.8 2.8M388.2 104.0l2.8 2.8m0 -2.8l-2.8 2.8M388.4 109.3l2.8 2.8m0 -2.8l-2.8 2.8M389.6 105.0l2.8 2.8m0 -2.8l-2.8 2.8M390.5 104.7l2.8 2.8m0 -2.8l-2.8 2.8M391.4 103.8l2.8 2.8m0 -2.8l-2.8 2.8M392.4 103.6l2.8 2.8m0 -2.8l-2.8 2.8M391.8 109.2l2.8 2.8m0 -2.8l-2.8 2.8M393.2 104.1l2.8 2.8m0 -2.8l-2.8 2.8M394.0 103.9l2.8 2.8m0 -2.8l-2.8 2.8M393.9 108.9l2.8 2.8m0 -2.8l-2.8 2.8M395.0 105.3l2.8 2.8m0 -2.8l-2.8 2.8M395.0 108.7l2.8 2.8m0 -2.8l-2.8 2.8M396.0 104.2l2.8 2.8m0 -2.8l-2.8 2.8M396.3 102.5l2.8 2.8m0 -2.8l-2.8 2.8M398.0 101.3l2.8 2.8m0 -2.8l-2.8 2.8M398.6 100.6l2.8 2.8m0 -2.8l-2.8 2.8M398.1 108.7l2.8 2.8m0 -2.8l-2.8 2.8M399.1 102.0l2.8 2.8m0 -2.8l-2.8 2.8M399.7 108.8l2.8 2.8m0 -2.8l-2.8 2.8M399.6 98.9l2.8 2.8m0 -2.8l-2.8 2.8M400.5 100.3l2.8 2.8m0 -2.8l-2.8 2.8M400.5 109.1l2.8 2.8m0 -2.8l-2.8 2.8M401.4 100.0l2.8 2.8m0 -2.8l-2.8 2.8M402.1 101.6l2.8 2.8m0 -2.8l-2.8 2.8M402.5 109.1l2.8 2.8m0 -2.8l-2.8 2.8M401.7 97.5l2.8 2.8m0 -2.8l-2.8 2.8M403.3 99.8l2.8 2.8m0 -2.8l-2.8 2.8M403.2 108.8l2.8 2.8m0 -2.8l-2.8 2.8M403.9 99.6l2.8 2.8m0 -2.8l-2.8 2.8M404.0 109.0l2.8 2.8m0 -2.8l-2.8 2.8M404.5 101.0l2.8 2.8m0 -2.8l-2.8 2.8M404.9 109.1l2.8 2.8m0 -2.8l-2.8 2.8M405.6 100.9l2.8 2.8m0 -2.8l-2.8 2.8M406.7 99.8l2.8 2.8m0 -2.8l-2.8 2.8M407.0 109.1l2.8 2.8m0 -2.8l-2.8 2.8M407.4 100.4l2.8 2.8m0 -2.8l-2.8 2.8M408.5 99.8l2.8 2.8m0 -2.8l-2.8 2.8M409.2 100.5l2.8 2.8m0 -2.8l-2.8 2.8M410.4 99.7l2.8 2.8m0 -2.8l-2.8 2.8M410.0 109.0l2.8 2.8m0 -2.8l-2.8 2.8M411.4 100.9l2.8 2.8m0 -2.8l-2.8 2.8M411.4 109.2l2.8 2.8m0 -2.8l-2.8 2.8M412.1 99.6l2.8 2.8m0 -2.8l-2.8 2.8M413.0 100.9l2.8 2.8m0 -2.8l-2.8 2.8M412.6 109.0l2.8 2.8m0 -2.8l-2.8 2.8M413.6 100.6l2.8 2.8m0 -2.8l-2.8 2.8M414.8 100.4l2.8 2.8m0 -2.8l-2.8 2.8M415.4 100.5l2.8 2.8m0 -2.8l-2.8 2.8M416.2 100.6l2.8 2.8m0 -2.8l-2.8 2.8M417.5 100.8l2.8 2.8m0 -2.8l-2.8 2.8M418.3 100.2l2.8 2.8m0 -2.8l-2.8 2.8M418.1 108.8l2.8 2.8m0 -2.8l-2.8 2.8M419.1 100.1l2.8 2.8m0 -2.8l-2.8 2.8M419.8 99.0l2.8 2.8m0 -2.8l-2.8 2.8M420.7 100.2l2.8 2.8m0 -2.8l-2.8 2.8M422.0 99.6l2.8 2.8m0 -2.8l-2.8 2.8M421.5 95.8l2.8 2.8m0 -2.8l-2.8 2.8M423.1 99.9l2.8 2.8m0 -2.8l-2.8 2.8M423.9 99.7l2.8 2.8m0 -2.8l-2.8 2.8M424.9 100.8l2.8 2.8m0 -2.8l-2.8 2.8M424.2 108.8l2.8 2.8m0 -2.8l-2.8 2.8M425.2 99.0l2.8 2.8m0 -2.8l-2.8 2.8M426.4 100.7l2.8 2.8m0 -2.8l-2.8 2.8M427.4 99.6l2.8 2.8m0 -2.8l-2.8 2.8M427.7 108.9l2.8 2.8m0 -2.8l-2.8 2.8M428.3 100.7l2.8 2.8m0 -2.8l-2.8 2.8M429.1 99.7l2.8 2.8m0 -2.8l-2.8 2.8M429.8 100.6l2.8 2.8m0 -2.8l-2.8 2.8M429.9 109.2l2.8 2.8m0 -2.8l-2.8 2.8M431.2 101.3l2.8 2.8m0 -2.8l-2.8 2.8M431.9 103.2l2.8 2.8m0 -2.8l-2.8 2.8M431.5 109.2l2.8 2.8m0 -2.8l-2.8 2.8M432.8 101.8l2.8 2.8m0 -2.8l-2.8 2.8M433.3 101.8l2.8 2.8m0 -2.8l-2.8 2.8M433.3 109.0l2.8 2.8m0 -2.8l-2.8 2.8M434.3 100.2l2.8 2.8m0 -2.8l-2.8 2.8M434.7 98.9l2.8 2.8m0 -2.8l-2.8 2.8M435.0 100.5l2.8 2.8m0 -2.8l-2.8 2.8M435.7 109.2l2.8 2.8m0 -2.8l-2.8 2.8M436.0 99.3l2.8 2.8m0 -2.8l-2.8 2.8M436.6 109.2l2.8 2.8m0 -2.8l-2.8 2.8M437.2 99.1l2.8 2.8m0 -2.8l-2.8 2.8M438.2 98.7l2.8 2.8m0 -2.8l-2.8 2.8M437.7 109.1l2.8 2.8m0 -2.8l-2.8 2.8M438.7 100.1l2.8 2.8m0 -2.8l-2.8 2.8M438.9 108.8l2.8 2.8m0 -2.8l-2.8 2.8M440.2 99.1l2.8 2.8m0 -2.8l-2.8 2.8M439.9 108.9l2.8 2.8m0 -2.8l-2.8 2.8M440.5 100.4l2.8 2.8m0 -2.8l-2.8 2.8M441.1 109.1l2.8 2.8m0 -2.8l-2.8 2.8M441.7 99.0l2.8 2.8m0 -2.8l-2.8 2.8M441.5 108.9l2.8 2.8m0 -2.8l-2.8 2.8M443.0 100.3l2.8 2.8m0 -2.8l-2.8 2.8M442.4 109.2l2.8 2.8m0 -2.8l-2.8 2.8M442.8 97.1l2.8 2.8m0 -2.8l-2.8 2.8M443.9 98.4l2.8 2.8m0 -2.8l-2.8 2.8M444.1 98.4l2.8 2.8m0 -2.8l-2.8 2.8M445.0 99.3l2.8 2.8m0 -2.8l-2.8 2.8M446.3 98.7l2.8 2.8m0 -2.8l-2.8 2.8M446.4 109.1l2.8 2.8m0 -2.8l-2.8 2.8M446.8 98.6l2.8 2.8m0 -2.8l-2.8 2.8M447.8 98.8l2.8 2.8m0 -2.8l-2.8 2.8M449.1 99.6l2.8 2.8m0 -2.8l-2.8 2.8M448.6 109.1l2.8 2.8m0 -2.8l-2.8 2.8M450.0 98.8l2.8 2.8m0 -2.8l-2.8 2.8M451.0 101.9l2.8 2.8m0 -2.8l-2.8 2.8M451.0 98.4l2.8 2.8m0 -2.8l-2.8 2.8M451.9 102.1l2.8 2.8m0 -2.8l-2.8 2.8M451.9 108.9l2.8 2.8m0 -2.8l-2.8 2.8M452.4 102.9l2.8 2.8m0 -2.8l-2.8 2.8M452.5 109.0l2.8 2.8m0 -2.8l-2.8 2.8M453.1 103.2l2.8 2.8m0 -2.8l-2.8 2.8M454.2 103.3l2.8 2.8m0 -2.8l-2.8 2.8M454.5 108.7l2.8 2.8m0 -2.8l-2.8 2.8M455.6 102.9l2.8 2.8m0 -2.8l-2.8 2.8M456.1 102.1l2.8 2.8m0 -2.8l-2.8 2.8M456.7 102.3l2.8 2.8m0 -2.8l-2.8 2.8M457.3 108.7l2.8 2.8m0 -2.8l-2.8 2.8M458.1 103.0l2.8 2.8m0 -2.8l-2.8 2.8M458.0 109.0l2.8 2.8m0 -2.8l-2.8 2.8M459.0 103.9l2.8 2.8m0 -2.8l-2.8 2.8M459.3 105.0l2.8 2.8m0 -2.8l-2.8 2.8M460.4 105.0l2.8 2.8m0 -2.8l-2.8 2.8M461.6 106.6l2.8 2.8m0 -2.8l-2.8 2.8M461.6 109.1l2.8 2.8m0 -2.8l-2.8 2.8M462.7 106.9l2.8 2.8m0 -2.8l-2.8 2.8M462.3 109.2l2.8 2.8m0 -2.8l-2.8 2.8M463.2 107.0l2.8 2.8m0 -2.8l-2.8 2.8M464.0 105.8l2.8 2.8m0 -2.8l-2.8 2.8M465.3 107.0l2.8 2.8m0 -2.8l-2.8 2.8M465.6 106.2l2.8 2.8m0 -2.8l-2.8 2.8M466.7 106.1l2.8 2.8m0 -2.8l-2.8 2.8M467.8 105.4l2.8 2.8m0 -2.8l-2.8 2.8M468.3 105.5l2.8 2.8m0 -2.8l-2.8 2.8M469.9 106.5l2.8 2.8m0 -2.8l-2.8 2.8M470.8 105.3l2.8 2.8m0 -2.8l-2.8 2.8M471.5 105.8l2.8 2.8m0 -2.8l-2.8 2.8M472.4 105.7l2.8 2.8m0 -2.8l-2.8 2.8M473.6 105.8l2.8 2.8m0 -2.8l-2.8 2.8M473.3 108.8l2.8 2.8m0 -2.8l-2.8 2.8M474.5 106.3l2.8 2.8m0 -2.8l-2.8 2.8M474.1 109.0l2.8 2.8m0 -2.8l-2.8 2.8M474.7 105.5l2.8 2.8m0 -2.8l-2.8 2.8M474.9 108.9l2.8 2.8m0 -2.8l-2.8 2.8M475.6 106.4l2.8 2.8m0 -2.8l-2.8 2.8M476.9 106.6l2.8 2.8m0 -2.8l-2.8 2.8M477.0 109.0l2.8 2.8m0 -2.8l-2.8 2.8M477.8 106.2l2.8 2.8m0 -2.8l-2.8 2.8M477.5 108.8l2.8 2.8m0 -2.8l-2.8 2.8M478.5 106.4l2.8 2.8m0 -2.8l-2.8 2.8M478.5 109.2l2.8 2.8m0 -2.8l-2.8 2.8M479.5 106.3l2.8 2.8m0 -2.8l-2.8 2.8M479.9 108.9l2.8 2.8m0 -2.8l-2.8 2.8M480.1 105.4l2.8 2.8m0 -2.8l-2.8 2.8M480.9 106.1l2.8 2.8m0 -2.8l-2.8 2.8M481.9 105.7l2.8 2.8m0 -2.8l-2.8 2.8M482.8 106.0l2.8 2.8m0 -2.8l-2.8 2.8M483.2 109.1l2.8 2.8m0 -2.8l-2.8 2.8M484.3 106.3l2.8 2.8m0 -2.8l-2.8 2.8M485.1 106.3l2.8 2.8m0 -2.8l-2.8 2.8M486.1 105.6l2.8 2.8m0 -2.8l-2.8 2.8M486.0 103.3l2.8 2.8m0 -2.8l-2.8 2.8M486.7 107.2l2.8 2.8m0 -2.8l-2.8 2.8M487.8 107.1l2.8 2.8m0 -2.8l-2.8 2.8M488.5 106.2l2.8 2.8m0 -2.8l-2.8 2.8M489.3 106.4l2.8 2.8m0 -2.8l-2.8 2.8M489.3 109.2l2.8 2.8m0 -2.8l-2.8 2.8M490.3 106.2l2.8 2.8m0 -2.8l-2.8 2.8M490.1 108.8l2.8 2.8m0 -2.8l-2.8 2.8M491.3 105.5l2.8 2.8m0 -2.8l-2.8 2.8M492.4 107.0l2.8 2.8m0 -2.8l-2.8 2.8M492.9 107.2l2.8 2.8m0 -2.8l-2.8 2.8M492.6 109.0l2.8 2.8m0 -2.8l-2.8 2.8M494.2 106.9l2.8 2.8m0 -2.8l-2.8 2.8M494.8 106.4l2.8 2.8m0 -2.8l-2.8 2.8M495.6 106.6l2.8 2.8m0 -2.8l-2.8 2.8M496.1 109.1l2.8 2.8m0 -2.8l-2.8 2.8M496.3 106.1l2.8 2.8m0 -2.8l-2.8 2.8M497.6 107.1l2.8 2.8m0 -2.8l-2.8 2.8M498.4 106.6l2.8 2.8m0 -2.8l-2.8 2.8M499.3 107.0l2.8 2.8m0 -2.8l-2.8 2.8M499.2 109.3l2.8 2.8m0 -2.8l-2.8 2.8M500.2 105.6l2.8 2.8m0 -2.8l-2.8 2.8M501.4 107.4l2.8 2.8m0 -2.8l-2.8 2.8M501.7 105.5l2.8 2.8m0 -2.8l-2.8 2.8M502.7 104.2l2.8 2.8m0 -2.8l-2.8 2.8M503.7 105.0l2.8 2.8m0 -2.8l-2.8 2.8M503.7 100.4l2.8 2.8m0 -2.8l-2.8 2.8M504.5 104.4l2.8 2.8m0 -2.8l-2.8 2.8M504.5 109.2l2.8 2.8m0 -2.8l-2.8 2.8M505.7 103.4l2.8 2.8m0 -2.8l-2.8 2.8M506.3 104.3l2.8 2.8m0 -2.8l-2.8 2.8M507.5 103.9l2.8 2.8m0 -2.8l-2.8 2.8M507.1 109.2l2.8 2.8m0 -2.8l-2.8 2.8M508.0 103.4l2.8 2.8m0 -2.8l-2.8 2.8M509.3 104.7l2.8 2.8m0 -2.8l-2.8 2.8M508.8 109.2l2.8 2.8m0 -2.8l-2.8 2.8M510.3 103.8l2.8 2.8m0 -2.8l-2.8 2.8M509.9 108.8l2.8 2.8m0 -2.8l-2.8 2.8M511.1 103.8l2.8 2.8m0 -2.8l-2.8 2.8M511.5 104.9l2.8 2.8m0 -2.8l-2.8 2.8M512.8 104.4l2.8 2.8m0 -2.8l-2.8 2.8M512.4 109.3l2.8 2.8m0 -2.8l-2.8 2.8M513.6 105.0l2.8 2.8m0 -2.8l-2.8 2.8M514.7 105.1l2.8 2.8m0 -2.8l-2.8 2.8M515.3 104.0l2.8 2.8m0 -2.8l-2.8 2.8M516.2 105.0l2.8 2.8m0 -2.8l-2.8 2.8M517.1 103.6l2.8 2.8m0 -2.8l-2.8 2.8M517.0 109.3l2.8 2.8m0 -2.8l-2.8 2.8M518.2 103.5l2.8 2.8m0 -2.8l-2.8 2.8M519.0 103.4l2.8 2.8m0 -2.8l-2.8 2.8M519.4 108.9l2.8 2.8m0 -2.8l-2.8 2.8M519.8 103.8l2.8 2.8m0 -2.8l-2.8 2.8M519.6 109.1l2.8 2.8m0 -2.8l-2.8 2.8M520.6 104.7l2.8 2.8m0 -2.8l-2.8 2.8M520.7 109.2l2.8 2.8m0 -2.8l-2.8 2.8M521.8 105.0l2.8 2.8m0 -2.8l-2.8 2.8M522.6 104.8l2.8 2.8m0 -2.8l-2.8 2.8M523.1 108.8l2.8 2.8m0 -2.8l-2.8 2.8M523.6 103.8l2.8 2.8m0 -2.8l-2.8 2.8M524.7 103.9l2.8 2.8m0 -2.8l-2.8 2.8M525.3 103.9l2.8 2.8m0 -2.8l-2.8 2.8M526.6 103.6l2.8 2.8m0 -2.8l-2.8 2.8M527.0 105.0l2.8 2.8m0 -2.8l-2.8 2.8M527.3 109.0l2.8 2.8m0 -2.8l-2.8 2.8M528.0 103.6l2.8 2.8m0 -2.8l-2.8 2.8M528.4 108.9l2.8 2.8m0 -2.8l-2.8 2.8M528.7 104.6l2.8 2.8m0 -2.8l-2.8 2.8M529.0 108.9l2.8 2.8m0 -2.8l-2.8 2.8M529.7 103.9l2.8 2.8m0 -2.8l-2.8 2.8M530.1 108.9l2.8 2.8m0 -2.8l-2.8 2.8M531.1 105.0l2.8 2.8m0 -2.8l-2.8 2.8M531.4 104.0l2.8 2.8m0 -2.8l-2.8 2.8M531.8 109.1l2.8 2.8m0 -2.8l-2.8 2.8M532.5 104.8l2.8 2.8m0 -2.8l-2.8 2.8M533.8 100.9l2.8 2.8m0 -2.8l-2.8 2.8M534.1 98.8l2.8 2.8m0 -2.8l-2.8 2.8M534.9 95.9l2.8 2.8m0 -2.8l-2.8 2.8M535.1 108.9l2.8 2.8m0 -2.8l-2.8 2.8M535.8 96.0l2.8 2.8m0 -2.8l-2.8 2.8M537.4 96.1l2.8 2.8m0 -2.8l-2.8 2.8M537.9 96.4l2.8 2.8m0 -2.8l-2.8 2.8M537.6 109.2l2.8 2.8m0 -2.8l-2.8 2.8M538.7 95.8l2.8 2.8m0 -2.8l-2.8 2.8M539.4 97.0l2.8 2.8m0 -2.8l-2.8 2.8M540.0 108.8l2.8 2.8m0 -2.8l-2.8 2.8M540.9 98.0l2.8 2.8m0 -2.8l-2.8 2.8M541.8 100.9l2.8 2.8m0 -2.8l-2.8 2.8M541.3 109.3l2.8 2.8m0 -2.8l-2.8 2.8M542.8 101.9l2.8 2.8m0 -2.8l-2.8 2.8M543.5 102.8l2.8 2.8m0 -2.8l-2.8 2.8M543.6 109.0l2.8 2.8m0 -2.8l-2.8 2.8M544.6 102.4l2.8 2.8m0 -2.8l-2.8 2.8M544.5 99.5l2.8 2.8m0 -2.8l-2.8 2.8M545.0 103.1l2.8 2.8m0 -2.8l-2.8 2.8M546.1 102.3l2.8 2.8m0 -2.8l-2.8 2.8M546.0 108.9l2.8 2.8m0 -2.8l-2.8 2.8M546.8 102.0l2.8 2.8m0 -2.8l-2.8 2.8M547.7 102.1l2.8 2.8m0 -2.8l-2.8 2.8M549.1 102.2l2.8 2.8m0 -2.8l-2.8 2.8M549.1 108.8l2.8 2.8m0 -2.8l-2.8 2.8M549.6 103.0l2.8 2.8m0 -2.8l-2.8 2.8M550.3 102.5l2.8 2.8m0 -2.8l-2.8 2.8M551.7 103.0l2.8 2.8m0 -2.8l-2.8 2.8M551.3 108.9l2.8 2.8m0 -2.8l-2.8 2.8M552.0 102.0l2.8 2.8m0 -2.8l-2.8 2.8M552.6 109.0l2.8 2.8m0 -2.8l-2.8 2.8M553.2 102.5l2.8 2.8m0 -2.8l-2.8 2.8M553.0 108.7l2.8 2.8m0 -2.8l-2.8 2.8M553.7 99.1l2.8 2.8m0 -2.8l-2.8 2.8M553.9 103.1l2.8 2.8m0 -2.8l-2.8 2.8M554.8 102.7l2.8 2.8m0 -2.8l-2.8 2.8M556.0 101.9l2.8 2.8m0 -2.8l-2.8 2.8M557.0 103.9l2.8 2.8m0 -2.8l-2.8 2.8M557.6 102.4l2.8 2.8m0 -2.8l-2.8 2.8M558.0 109.2l2.8 2.8m0 -2.8l-2.8 2.8M558.4 103.5l2.8 2.8m0 -2.8l-2.8 2.8M559.3 103.9l2.8 2.8m0 -2.8l-2.8 2.8M560.4 102.9l2.8 2.8m0 -2.8l-2.8 2.8M561.3 103.8l2.8 2.8m0 -2.8l-2.8 2.8M561.7 108.8l2.8 2.8m0 -2.8l-2.8 2.8M561.5 100.5l2.8 2.8m0 -2.8l-2.8 2.8M562.6 104.2l2.8 2.8m0 -2.8l-2.8 2.8M563.2 104.0l2.8 2.8m0 -2.8l-2.8 2.8M563.0 109.0l2.8 2.8m0 -2.8l-2.8 2.8M564.3 103.4l2.8 2.8m0 -2.8l-2.8 2.8M564.7 103.3l2.8 2.8m0 -2.8l-2.8 2.8M566.1 103.4l2.8 2.8m0 -2.8l-2.8 2.8M567.0 104.4l2.8 2.8m0 -2.8l-2.8 2.8M566.9 109.0l2.8 2.8m0 -2.8l-2.8 2.8M567.6 104.6l2.8 2.8m0 -2.8l-2.8 2.8M568.9 104.2l2.8 2.8m0 -2.8l-2.8 2.8M568.6 109.0l2.8 2.8m0 -2.8l-2.8 2.8M569.3 104.2l2.8 2.8m0 -2.8l-2.8 2.8M569.5 109.3l2.8 2.8m0 -2.8l-2.8 2.8M570.7 106.1l2.8 2.8m0 -2.8l-2.8 2.8M571.5 104.3l2.8 2.8m0 -2.8l-2.8 2.8M572.0 105.3l2.8 2.8m0 -2.8l-2.8 2.8M573.2 104.8l2.8 2.8m0 -2.8l-2.8 2.8M573.4 108.7l2.8 2.8m0 -2.8l-2.8 2.8M574.1 105.1l2.8 2.8m0 -2.8l-2.8 2.8M574.1 108.9l2.8 2.8m0 -2.8l-2.8 2.8M574.8 105.3l2.8 2.8m0 -2.8l-2.8 2.8M575.5 104.6l2.8 2.8m0 -2.8l-2.8 2.8M576.4 105.9l2.8 2.8m0 -2.8l-2.8 2.8M576.4 109.0l2.8 2.8m0 -2.8l-2.8 2.8M577.6 105.3l2.8 2.8m0 -2.8l-2.8 2.8M577.7 108.8l2.8 2.8m0 -2.8l-2.8 2.8M578.6 104.4l2.8 2.8m0 -2.8l-2.8 2.8M579.4 105.9l2.8 2.8m0 -2.8l-2.8 2.8M580.5 104.4l2.8 2.8m0 -2.8l-2.8 2.8M580.9 105.9l2.8 2.8m0 -2.8l-2.8 2.8M580.9 109.3l2.8 2.8m0 -2.8l-2.8 2.8M582.3 104.5l2.8 2.8m0 -2.8l-2.8 2.8M581.9 102.7l2.8 2.8m0 -2.8l-2.8 2.8M582.6 105.4l2.8 2.8m0 -2.8l-2.8 2.8M582.8 109.1l2.8 2.8m0 -2.8l-2.8 2.8M584.2 105.4l2.8 2.8m0 -2.8l-2.8 2.8M585.1 105.9l2.8 2.8m0 -2.8l-2.8 2.8M585.0 108.9l2.8 2.8m0 -2.8l-2.8 2.8M585.8 105.9l2.8 2.8m0 -2.8l-2.8 2.8M585.6 109.1l2.8 2.8m0 -2.8l-2.8 2.8M586.8 104.3l2.8 2.8m0 -2.8l-2.8 2.8M587.5 105.8l2.8 2.8m0 -2.8l-2.8 2.8M587.8 109.1l2.8 2.8m0 -2.8l-2.8 2.8M588.2 105.0l2.8 2.8m0 -2.8l-2.8 2.8M589.0 104.1l2.8 2.8m0 -2.8l-2.8 2.8M589.5 108.8l2.8 2.8m0 -2.8l-2.8 2.8M590.0 105.4l2.8 2.8m0 -2.8l-2.8 2.8M589.9 109.2l2.8 2.8m0 -2.8l-2.8 2.8M591.3 105.6l2.8 2.8m0 -2.8l-2.8 2.8M591.0 103.0l2.8 2.8m0 -2.8l-2.8 2.8M592.0 105.7l2.8 2.8m0 -2.8l-2.8 2.8M591.7 101.3l2.8 2.8m0 -2.8l-2.8 2.8M593.0 104.7l2.8 2.8m0 -2.8l-2.8 2.8M594.1 104.6l2.8 2.8m0 -2.8l-2.8 2.8M594.4 104.5l2.8 2.8m0 -2.8l-2.8 2.8M595.0 109.1l2.8 2.8m0 -2.8l-2.8 2.8M594.4 102.3l2.8 2.8m0 -2.8l-2.8 2.8M595.6 104.9l2.8 2.8m0 -2.8l-2.8 2.8M595.5 108.7l2.8 2.8m0 -2.8l-2.8 2.8M596.4 103.7l2.8 2.8m0 -2.8l-2.8 2.8M597.0 104.0l2.8 2.8m0 -2.8l-2.8 2.8M598.1 104.6l2.8 2.8m0 -2.8l-2.8 2.8M598.4 109.0l2.8 2.8m0 -2.8l-2.8 2.8M599.6 103.7l2.8 2.8m0 -2.8l-2.8 2.8M600.4 105.1l2.8 2.8m0 -2.8l-2.8 2.8M600.9 104.1l2.8 2.8m0 -2.8l-2.8 2.8M602.3 104.9l2.8 2.8m0 -2.8l-2.8 2.8M602.1 109.1l2.8 2.8m0 -2.8l-2.8 2.8M602.9 104.3l2.8 2.8m0 -2.8l-2.8 2.8M603.3 104.2l2.8 2.8m0 -2.8l-2.8 2.8M604.1 109.0l2.8 2.8m0 -2.8l-2.8 2.8M604.4 104.0l2.8 2.8m0 -2.8l-2.8 2.8M604.3 108.7l2.8 2.8m0 -2.8l-2.8 2.8M605.5 104.4l2.8 2.8m0 -2.8l-2.8 2.8M606.1 103.7l2.8 2.8m0 -2.8l-2.8 2.8M606.2 109.1l2.8 2.8m0 -2.8l-2.8 2.8M607.6 104.2l2.8 2.8m0 -2.8l-2.8 2.8M607.9 103.9l2.8 2.8m0 -2.8l-2.8 2.8M609.0 105.1l2.8 2.8m0 -2.8l-2.8 2.8M609.7 104.5l2.8 2.8m0 -2.8l-2.8 2.8M610.7 103.5l2.8 2.8m0 -2.8l-2.8 2.8M610.7 109.1l2.8 2.8m0 -2.8l-2.8 2.8M611.7 103.9l2.8 2.8m0 -2.8l-2.8 2.8M612.8 103.9l2.8 2.8m0 -2.8l-2.8 2.8M613.7 103.6l2.8 2.8m0 -2.8l-2.8 2.8M614.4 103.7l2.8 2.8m0 -2.8l-2.8 2.8M614.5 109.2l2.8 2.8m0 -2.8l-2.8 2.8M615.7 103.9l2.8 2.8m0 -2.8l-2.8 2.8M615.6 109.1l2.8 2.8m0 -2.8l-2.8 2.8M616.4 104.1l2.8 2.8m0 -2.8l-2.8 2.8M616.2 108.7l2.8 2.8m0 -2.8l-2.8 2.8M617.1 104.4l2.8 2.8m0 -2.8l-2.8 2.8M618.1 103.4l2.8 2.8m0 -2.8l-2.8 2.8M619.4 103.5l2.8 2.8m0 -2.8l-2.8 2.8M619.8 103.6l2.8 2.8m0 -2.8l-2.8 2.8M619.6 109.2l2.8 2.8m0 -2.8l-2.8 2.8M621.1 103.9l2.8 2.8m0 -2.8l-2.8 2.8M621.7 103.0l2.8 2.8m0 -2.8l-2.8 2.8M622.8 100.7l2.8 2.8m0 -2.8l-2.8 2.8M623.7 99.9l2.8 2.8m0 -2.8l-2.8 2.8M624.4 99.0l2.8 2.8m0 -2.8l-2.8 2.8M625.0 98.3l2.8 2.8m0 -2.8l-2.8 2.8M626.4 99.1l2.8 2.8m0 -2.8l-2.8 2.8M627.3 98.6l2.8 2.8m0 -2.8l-2.8 2.8M626.8 108.7l2.8 2.8m0 -2.8l-2.8 2.8M628.0 98.8l2.8 2.8m0 -2.8l-2.8 2.8M628.6 98.9l2.8 2.8m0 -2.8l-2.8 2.8M629.5 98.7l2.8 2.8m0 -2.8l-2.8 2.8M631.1 100.0l2.8 2.8m0 -2.8l-2.8 2.8M631.8 102.4l2.8 2.8m0 -2.8l-2.8 2.8M631.9 108.8l2.8 2.8m0 -2.8l-2.8 2.8M632.2 105.2l2.8 2.8m0 -2.8l-2.8 2.8M633.0 104.9l2.8 2.8m0 -2.8l-2.8 2.8M634.7 104.6l2.8 2.8m0 -2.8l-2.8 2.8M634.1 108.9l2.8 2.8m0 -2.8l-2.8 2.8M635.0 100.6l2.8 2.8m0 -2.8l-2.8 2.8M635.9 100.3l2.8 2.8m0 -2.8l-2.8 2.8M636.2 108.8l2.8 2.8m0 -2.8l-2.8 2.8M637.3 99.0l2.8 2.8m0 -2.8l-2.8 2.8M637.7 99.2l2.8 2.8m0 -2.8l-2.8 2.8M638.5 100.8l2.8 2.8m0 -2.8l-2.8 2.8M639.8 104.3l2.8 2.8m0 -2.8l-2.8 2.8M640.0 108.9l2.8 2.8m0 -2.8l-2.8 2.8M640.9 102.9l2.8 2.8m0 -2.8l-2.8 2.8M641.3 102.5l2.8 2.8m0 -2.8l-2.8 2.8M641.9 108.7l2.8 2.8m0 -2.8l-2.8 2.8M642.1 104.0l2.8 2.8m0 -2.8l-2.8 2.8M642.1 109.1l2.8 2.8m0 -2.8l-2.8 2.8M643.2 104.3l2.8 2.8m0 -2.8l-2.8 2.8M644.6 102.6l2.8 2.8m0 -2.8l-2.8 2.8M644.4 109.1l2.8 2.8m0 -2.8l-2.8 2.8M644.2 101.3l2.8 2.8m0 -2.8l-2.8 2.8M113.6 95.4l2.8 2.8m0 -2.8l-2.8 2.8M117.1 99.2l2.8 2.8m0 -2.8l-2.8 2.8M119.6 101.1l2.8 2.8m0 -2.8l-2.8 2.8M126.6 98.6l2.8 2.8m0 -2.8l-2.8 2.8M139.6 95.9l2.8 2.8m0 -2.8l-2.8 2.8M146.1 100.3l2.8 2.8m0 -2.8l-2.8 2.8M148.1 90.1l2.8 2.8m0 -2.8l-2.8 2.8M150.1 88.8l2.8 2.8m0 -2.8l-2.8 2.8M148.9 91.1l2.8 2.8m0 -2.8l-2.8 2.8M151.1 90.4l2.8 2.8m0 -2.8l-2.8 2.8M165.6 99.1l2.8 2.8m0 -2.8l-2.8 2.8M170.1 97.9l2.8 2.8m0 -2.8l-2.8 2.8M171.6 100.4l2.8 2.8m0 -2.8l-2.8 2.8M177.1 95.1l2.8 2.8m0 -2.8l-2.8 2.8M180.6 93.0l2.8 2.8m0 -2.8l-2.8 2.8M186.6 99.6l2.8 2.8m0 -2.8l-2.8 2.8M194.4 92.1l2.8 2.8m0 -2.8l-2.8 2.8M196.6 98.9l2.8 2.8m0 -2.8l-2.8 2.8M199.6 100.1l2.8 2.8m0 -2.8l-2.8 2.8M204.1 100.6l2.8 2.8m0 -2.8l-2.8 2.8M154.1 94.1l2.8 2.8m0 -2.8l-2.8 2.8M156.6 93.6l2.8 2.8m0 -2.8l-2.8 2.8M158.6 95.1l2.8 2.8m0 -2.8l-2.8 2.8M155.6 98.6l2.8 2.8m0 -2.8l-2.8 2.8M243.6 97.6l2.8 2.8m0 -2.8l-2.8 2.8M248.6 96.6l2.8 2.8m0 -2.8l-2.8 2.8M252.6 96.1l2.8 2.8m0 -2.8l-2.8 2.8M255.6 96.8l2.8 2.8m0 -2.8l-2.8 2.8M299.6 95.1l2.8 2.8m0 -2.8l-2.8 2.8M302.1 94.6l2.8 2.8m0 -2.8l-2.8 2.8M304.6 96.1l2.8 2.8m0 -2.8l-2.8 2.8M309.6 97.1l2.8 2.8m0 -2.8l-2.8 2.8M311.6 98.6l2.8 2.8m0 -2.8l-2.8 2.8M384.6 101.6l2.8 2.8m0 -2.8l-2.8 2.8M397.6 97.1l2.8 2.8m0 -2.8l-2.8 2.8M399.6 99.1l2.8 2.8m0 -2.8l-2.8 2.8M408.1 89.8l2.8 2.8m0 -2.8l-2.8 2.8M410.1 89.2l2.8 2.8m0 -2.8l-2.8 2.8M411.1 90.9l2.8 2.8m0 -2.8l-2.8 2.8M409.1 91.4l2.8 2.8m0 -2.8l-2.8 2.8M426.6 95.2l2.8 2.8m0 -2.8l-2.8 2.8M428.6 95.2l2.8 2.8m0 -2.8l-2.8 2.8M434.6 96.2l2.8 2.8m0 -2.8l-2.8 2.8M448.1 94.1l2.8 2.8m0 -2.8l-2.8 2.8M450.6 97.1l2.8 2.8m0 -2.8l-2.8 2.8M484.9 103.6l2.8 2.8m0 -2.8l-2.8 2.8M535.9 90.3l2.8 2.8m0 -2.8l-2.8 2.8M552.1 95.6l2.8 2.8m0 -2.8l-2.8 2.8M553.1 98.6l2.8 2.8m0 -2.8l-2.8 2.8M558.6 93.1l2.8 2.8m0 -2.8l-2.8 2.8M560.1 95.6l2.8 2.8m0 -2.8l-2.8 2.8M561.6 98.1l2.8 2.8m0 -2.8l-2.8 2.8M558.6 100.1l2.8 2.8m0 -2.8l-2.8 2.8M563.6 100.6l2.8 2.8m0 -2.8l-2.8 2.8M564.6 91.0l2.8 2.8m0 -2.8l-2.8 2.8M567.2 91.0l2.8 2.8m0 -2.8l-2.8 2.8M569.8 91.0l2.8 2.8m0 -2.8l-2.8 2.8M572.4 91.0l2.8 2.8m0 -2.8l-2.8 2.8M575.0 91.0l2.8 2.8m0 -2.8l-2.8 2.8M564.6 88.6l2.8 2.8m0 -2.8l-2.8 2.8M568.6 87.1l2.8 2.8m0 -2.8l-2.8 2.8M574.6 86.8l2.8 2.8m0 -2.8l-2.8 2.8M577.1 89.1l2.8 2.8m0 -2.8l-2.8 2.8M573.6 96.1l2.8 2.8m0 -2.8l-2.8 2.8M575.6 97.6l2.8 2.8m0 -2.8l-2.8 2.8M569.6 98.6l2.8 2.8m0 -2.8l-2.8 2.8M567.6 94.6l2.8 2.8m0 -2.8l-2.8 2.8M565.1 98.1l2.8 2.8m0 -2.8l-2.8 2.8M571.6 101.6l2.8 2.8m0 -2.8l-2.8 2.8M581.6 87.1l2.8 2.8m0 -2.8l-2.8 2.8M582.1 90.6l2.8 2.8m0 -2.8l-2.8 2.8M582.4 93.1l2.8 2.8m0 -2.8l-2.8 2.8M582.6 98.3l2.8 2.8m0 -2.8l-2.8 2.8M590.9 90.6l2.8 2.8m0 -2.8l-2.8 2.8M588.6 100.1l2.8 2.8m0 -2.8l-2.8 2.8M593.6 101.1l2.8 2.8m0 -2.8l-2.8 2.8M598.6 100.6l2.8 2.8m0 -2.8l-2.8 2.8M604.6 101.1l2.8 2.8m0 -2.8l-2.8 2.8M611.6 101.6l2.8 2.8m0 -2.8l-2.8 2.8M625.6 95.9l2.8 2.8m0 -2.8l-2.8 2.8M628.1 95.8l2.8 2.8m0 -2.8l-2.8 2.8M630.6 96.6l2.8 2.8m0 -2.8l-2.8 2.8M626.6 98.6l2.8 2.8m0 -2.8l-2.8 2.8M636.6 96.1l2.8 2.8m0 -2.8l-2.8 2.8M639.1 97.1l2.8 2.8m0 -2.8l-2.8 2.8M636.1 99.6l2.8 2.8m0 -2.8l-2.8 2.8" stroke="#000080" stroke-width="0.9" fill="none"/>
<path d="M110.6 107.1h0.01M112.5 105.4h0.01M113.4 106.6h0.01M114.0 105.8h0.01M114.9 105.9h0.01M116.2 106.1h0.01M117.2 105.9h0.01M117.6 107.4h0.01M119.0 106.8h0.01M119.8 109.2h0.01M121.5 106.2h0.01M122.2 109.0h0.01M122.7 106.4h0.01M123.6 107.3h0.01M125.0 106.6h0.01M126.1 107.7h0.01M126.5 107.6h0.01M128.2 108.6h0.01M129.0 108.1h0.01M130.5 107.2h0.01M131.2 108.6h0.01M131.8 105.0h0.01M133.5 105.1h0.01M133.9 104.9h0.01M134.6 105.1h0.01M135.5 109.5h0.01M137.4 106.6h0.01M138.1 103.9h0.01M138.7 104.8h0.01M139.6 103.5h0.01M141.3 108.3h0.01M141.5 108.8h0.01M142.8 107.2h0.01M144.0 108.3h0.01M145.5 107.2h0.01M146.2 106.1h0.01M147.0 109.0h0.01M148.5 108.1h0.01M149.1 106.9h0.01M149.9 108.6h0.01M150.9 106.6h0.01M152.1 104.7h0.01M152.8 106.2h0.01M154.0 105.6h0.01M155.1 101.5h0.01M156.4 102.0h0.01M157.2 104.1h0.01M158.0 104.7h0.01M158.6 101.7h0.01M160.0 108.8h0.01M161.0 106.0h0.01M161.7 108.6h0.01M163.3 105.7h0.01M164.1 107.1h0.01M165.4 108.7h0.01M165.5 108.9h0.01M167.3 107.0h0.01M167.6 108.8h0.01M168.8 107.0h0.01M169.9 106.9h0.01M171.0 108.9h0.01M171.6 107.9h0.01M173.5 107.7h0.01M173.9 108.6h0.01M175.3 108.0h0.01M175.6 108.8h0.01M176.9 108.6h0.01M177.7 108.1h0.01M178.8 107.7h0.01M179.5 107.7h0.01M181.1 107.2h0.01M181.7 106.8h0.01M182.8 108.7h0.01M183.7 107.5h0.01M184.6 109.0h0.01M186.4 108.4h0.01M186.9 107.2h0.01M188.1 108.9h0.01M188.5 107.7h0.01M189.9 107.9h0.01M190.8 108.7h0.01M192.1 107.8h0.01M192.9 109.0h0.01M194.1 107.7h0.01M194.7 109.3h0.01M196.2 109.4h0.01M197.2 106.3h0.01M197.6 106.1h0.01M198.9 108.3h0.01M200.0 107.1h0.01M201.3 109.0h0.01M202.1 104.5h0.01M203.0 106.8h0.01M203.9 108.7h0.01M205.4 106.8h0.01M206.0 106.6h0.01M207.3 107.0h0.01M208.2 107.8h0.01M208.5 106.4h0.01M210.1 107.9h0.01M211.3 108.3h0.01M211.7 105.0h0.01M213.3 107.2h0.01M213.6 107.3h0.01M215.1 108.9h0.01M216.2 107.1h0.01M217.0 108.8h0.01M218.2 107.1h0.01M219.1 105.5h0.01M220.3 109.5h0.01M220.6 108.6h0.01M222.0 105.0h0.01M223.5 102.9h0.01M223.8 104.7h0.01M224.8 105.0h0.01M226.1 108.6h0.01M226.9 106.3h0.01M227.8 103.4h0.01M229.3 108.6h0.01M229.8 108.6h0.01M230.6 104.4h0.01M231.9 106.5h0.01M233.0 106.1h0.01M233.9 106.8h0.01M234.7 108.2h0.01M236.1 109.0h0.01M236.8 103.4h0.01M237.9 106.5h0.01M238.8 106.6h0.01M240.3 104.7h0.01M241.2 104.8h0.01M242.1 108.2h0.01M243.4 105.8h0.01M244.4 105.7h0.01M244.9 103.1h0.01M245.5 107.0h0.01M246.6 108.6h0.01M247.7 106.7h0.01M249.1 109.0h0.01M250.0 108.1h0.01M251.2 107.2h0.01M251.7 104.4h0.01M252.6 108.3h0.01M253.7 108.9h0.01M254.6 102.8h0.01M256.5 108.0h0.01M257.2 105.8h0.01M258.4 105.3h0.01M258.7 107.9h0.01M260.2 105.3h0.01M261.3 105.5h0.01M261.7 106.8h0.01M262.8 107.9h0.01M263.7 107.8h0.01M264.8 109.2h0.01M265.7 108.9h0.01M267.5 108.7h0.01M267.5 107.2h0.01M269.1 107.1h0.01M270.0 106.5h0.01M271.0 106.1h0.01M271.9 108.5h0.01M272.6 108.3h0.01M273.6 108.8h0.01M275.5 109.2h0.01M276.0 109.3h0.01M276.8 106.8h0.01M278.0 108.6h0.01M278.6 109.2h0.01M280.4 107.5h0.01M281.0 108.0h0.01M281.6 106.0h0.01M283.4 106.7h0.01M283.7 108.9h0.01M284.5 109.2h0.01M286.5 108.0h0.01M287.4 107.0h0.01M287.6 108.2h0.01M288.9 107.0h0.01M290.2 106.8h0.01M291.3 106.6h0.01M291.6 107.1h0.01M292.6 108.0h0.01M294.3 108.0h0.01M295.0 108.2h0.01M296.0 106.5h0.01M297.1 106.8h0.01M298.1 105.6h0.01M298.9 105.6h0.01M299.7 106.9h0.01M301.4 103.1h0.01M302.3 104.4h0.01M303.0 108.5h0.01M303.6 102.9h0.01M304.6 108.6h0.01M306.0 105.6h0.01M307.0 102.7h0.01M308.0 104.0h0.01M308.9 106.8h0.01M309.9 105.2h0.01M310.6 105.3h0.01M312.4 105.5h0.01M313.4 106.9h0.01M314.4 104.5h0.01M315.3 106.9h0.01M316.2 107.5h0.01M317.3 106.3h0.01M317.8 105.9h0.01M318.9 105.4h0.01M319.8 107.5h0.01M320.6 109.0h0.01M321.7 108.6h0.01M323.3 109.4h0.01M323.6 109.4h0.01M325.1 109.3h0.01M325.5 109.5h0.01M327.2 109.4h0.01M327.8 109.4h0.01M329.0 109.4h0.01M329.5 109.5h0.01M330.9 109.5h0.01M331.6 109.3h0.01M333.2 109.2h0.01M333.7 109.4h0.01M334.6 109.2h0.01M335.7 109.2h0.01M337.5 109.2h0.01M338.3 109.5h0.01M339.0 109.3h0.01M340.4 109.4h0.01M341.1 109.4h0.01M342.1 109.1h0.01M343.3 109.4h0.01M344.2 109.1h0.01M344.7 109.2h0.01M346.2 109.4h0.01M346.6 108.6h0.01M348.4 108.9h0.01M349.2 109.2h0.01M350.3 108.9h0.01M350.9 108.1h0.01M352.3 108.9h0.01M352.8 109.1h0.01M354.0 109.4h0.01M354.6 109.3h0.01M356.3 109.4h0.01M357.3 107.0h0.01M357.7 106.9h0.01M358.7 107.7h0.01M360.4 107.8h0.01M361.2 108.4h0.01M362.3 107.4h0.01M363.2 108.8h0.01M364.3 109.3h0.01M364.6 106.8h0.01M366.3 107.6h0.01M367.1 105.8h0.01M368.3 108.6h0.01M369.0 103.9h0.01M369.6 104.0h0.01M370.9 108.4h0.01M372.0 107.3h0.01M372.7 105.8h0.01M374.3 105.9h0.01M374.8 107.4h0.01M375.8 104.4h0.01M376.9 107.8h0.01M378.3 107.6h0.01M379.2 104.6h0.01M380.3 105.0h0.01M380.8 106.4h0.01M381.9 109.3h0.01M383.4 106.6h0.01M384.4 108.0h0.01M385.0 107.2h0.01M386.0 109.3h0.01M386.7 109.5h0.01M387.7 108.9h0.01M388.5 107.7h0.01M390.4 106.4h0.01M391.3 107.4h0.01M391.9 106.7h0.01M393.1 106.1h0.01M394.0 109.0h0.01M395.4 107.1h0.01M396.2 109.1h0.01M397.1 106.0h0.01M398.5 106.5h0.01M399.2 105.1h0.01M399.9 106.9h0.01M401.2 106.1h0.01M402.0 108.8h0.01M403.5 104.8h0.01M404.3 102.4h0.01M405.1 107.1h0.01M406.3 105.2h0.01M407.2 108.6h0.01M407.5 107.5h0.01M408.6 104.1h0.01M410.4 109.1h0.01M411.1 102.6h0.01M411.5 106.1h0.01M413.2 104.6h0.01M413.8 106.6h0.01M414.8 107.6h0.01M415.9 105.8h0.01M417.1 109.3h0.01M418.2 107.9h0.01M419.5 104.4h0.01M420.2 107.1h0.01M420.7 103.5h0.01M422.3 106.0h0.01M422.8 107.8h0.01M424.0 102.4h0.01M424.7 108.5h0.01M425.7 107.3h0.01M426.6 103.8h0.01M427.9 103.6h0.01M429.5 109.2h0.01M429.8 102.7h0.01M430.7 109.1h0.01M431.9 105.4h0.01M432.8 104.2h0.01M433.9 105.9h0.01M434.8 109.3h0.01M436.4 103.6h0.01M437.3 104.7h0.01M438.3 106.3h0.01M438.7 103.5h0.01M440.0 107.4h0.01M441.2 105.6h0.01M441.8 107.3h0.01M443.4 103.9h0.01M443.8 105.4h0.01M444.8 106.2h0.01M445.5 107.5h0.01M447.1 108.0h0.01M448.4 103.8h0.01M448.7 103.0h0.01M450.0 101.3h0.01M451.2 107.3h0.01M452.3 105.3h0.01M452.8 104.5h0.01M454.5 107.5h0.01M455.2 107.5h0.01M455.9 108.3h0.01M457.2 109.2h0.01M457.9 106.1h0.01M458.8 108.5h0.01M460.4 106.4h0.01M461.0 108.3h0.01M462.4 108.7h0.01M462.8 107.5h0.01M463.9 107.4h0.01M465.4 108.5h0.01M466.1 108.8h0.01M467.1 108.3h0.01M468.3 108.1h0.01M469.3 109.1h0.01M470.2 107.8h0.01M471.0 109.0h0.01M472.4 109.3h0.01M473.3 109.0h0.01M474.4 108.8h0.01M475.2 107.8h0.01M476.1 108.9h0.01M476.6 108.1h0.01M478.3 108.7h0.01M478.7 108.1h0.01M479.6 108.0h0.01M481.5 108.9h0.01M481.9 109.1h0.01M482.6 108.9h0.01M483.8 109.2h0.01M485.1 107.6h0.01M485.8 107.9h0.01M486.9 107.7h0.01M488.3 108.7h0.01M489.3 107.7h0.01M489.7 107.8h0.01M490.8 108.8h0.01M492.1 108.3h0.01M493.3 108.0h0.01M494.3 108.0h0.01M495.0 109.1h0.01M496.3 107.7h0.01M497.0 107.7h0.01M497.6 108.4h0.01M499.2 108.8h0.01M499.9 108.7h0.01M501.1 108.6h0.01M502.4 108.1h0.01M503.3 109.5h0.01M503.8 109.4h0.01M504.6 109.4h0.01M505.6 107.3h0.01M507.2 107.2h0.01M508.0 108.3h0.01M508.7 106.8h0.01M509.8 107.0h0.01M511.2 106.2h0.01M511.9 107.5h0.01M513.2 106.2h0.01M513.8 106.3h0.01M515.2 107.7h0.01M516.2 109.4h0.01M517.4 109.3h0.01M518.2 108.4h0.01M518.7 105.8h0.01M520.4 105.6h0.01M521.1 108.4h0.01M521.9 106.6h0.01M523.1 106.2h0.01M523.8 109.5h0.01M524.7 105.8h0.01M526.4 107.0h0.01M527.0 108.8h0.01M527.6 106.1h0.01M529.3 106.3h0.01M530.5 107.5h0.01M531.3 109.2h0.01M532.3 107.5h0.01M532.6 106.3h0.01M534.0 107.9h0.01M534.8 103.7h0.01M536.4 98.7h0.01M537.4 106.2h0.01M537.9 109.3h0.01M538.9 106.2h0.01M540.3 107.3h0.01M540.5 100.0h0.01M542.1 102.0h0.01M542.5 104.5h0.01M544.3 108.4h0.01M544.5 106.8h0.01M546.0 108.9h0.01M546.8 104.6h0.01M548.4 107.5h0.01M549.1 106.6h0.01M549.7 105.0h0.01M550.9 108.9h0.01M552.1 104.1h0.01M552.7 104.4h0.01M554.1 106.4h0.01M555.2 107.5h0.01M555.6 106.4h0.01M556.6 108.0h0.01M557.9 106.7h0.01M559.2 107.8h0.01M560.1 105.7h0.01M561.0 108.0h0.01M562.4 105.5h0.01M562.6 107.7h0.01M564.5 106.2h0.01M564.9 106.3h0.01M566.3 108.7h0.01M567.2 108.1h0.01M567.6 106.0h0.01M569.3 109.4h0.01M569.5 106.3h0.01M571.4 107.1h0.01M572.2 107.2h0.01M573.1 109.3h0.01M573.8 109.3h0.01M574.5 107.0h0.01M575.6 108.8h0.01M577.2 109.4h0.01M578.3 107.1h0.01M579.0 107.0h0.01M580.3 106.8h0.01M581.4 109.2h0.01M582.4 106.5h0.01M583.3 108.2h0.01M584.1 108.0h0.01M585.3 108.3h0.01M585.6 106.7h0.01M586.8 108.1h0.01M587.5 107.7h0.01M588.5 108.7h0.01M590.3 109.0h0.01M590.6 107.8h0.01M591.7 108.4h0.01M592.6 107.6h0.01M594.0 109.4h0.01M594.6 107.3h0.01M596.3 108.6h0.01M596.6 109.0h0.01M597.8 107.3h0.01M598.6 108.7h0.01M600.5 108.1h0.01M600.5 108.7h0.01M601.6 106.2h0.01M603.1 108.4h0.01M604.0 107.8h0.01M605.1 107.3h0.01M606.4 108.2h0.01M607.3 108.5h0.01M608.3 109.2h0.01M608.5 108.5h0.01M610.3 108.3h0.01M611.4 107.4h0.01M612.4 106.5h0.01M613.2 107.4h0.01M613.8 106.7h0.01M614.8 107.1h0.01M615.9 106.1h0.01M617.2 109.4h0.01M618.3 109.2h0.01M619.5 108.9h0.01M619.8 108.6h0.01M620.9 106.7h0.01M621.7 105.8h0.01M623.4 108.9h0.01M624.3 104.8h0.01M625.4 107.7h0.01M626.0 107.7h0.01M627.3 101.5h0.01M628.1 103.4h0.01M629.0 104.0h0.01M629.7 109.2h0.01M631.1 105.5h0.01M632.4 105.6h0.01M633.4 106.1h0.01M634.5 108.6h0.01M634.7 106.3h0.01M636.4 106.6h0.01M636.8 100.6h0.01M638.5 107.0h0.01M638.9 102.4h0.01M640.2 106.8h0.01M641.3 108.3h0.01M641.8 106.0h0.01M643.2 104.9h0.01M643.8 105.8h0.01M645.1 109.3h0.01" stroke="#fff" stroke-width="0.8" stroke-linecap="round" opacity="0.8"/>
<circle cx="591.5" cy="102.2" r="1.3" fill="none" stroke="#000080" stroke-width="0.8"/>
<circle cx="157.6" cy="98" r="1.3" fill="none" stroke="#000080" stroke-width="0.8"/>
<circle cx="188" cy="98.4" r="1.3" fill="none" stroke="#000080" stroke-width="0.8"/>
<path d="M553.2 82.1l2.4 2.4m0 -2.4l-2.4 2.4M569.8 84.2l2.4 2.4m0 -2.4l-2.4 2.4M574.3 85.2l2.4 2.4m0 -2.4l-2.4 2.4M578.2 82.2l2.4 2.4m0 -2.4l-2.4 2.4M583.1 85.3l2.4 2.4m0 -2.4l-2.4 2.4M570.3 83.8l2.4 2.4m0 -2.4l-2.4 2.4" stroke="#87cefa" stroke-width="0.9" fill="none"/>
<circle cx="562.5" cy="82.2" r="1.4" fill="none" stroke="#87cefa" stroke-width="0.8"/>
<circle cx="584.3" cy="80.2" r="1.4" fill="none" stroke="#87cefa" stroke-width="0.8"/>
<line x1="110.3" y1="91" x2="110.3" y2="93.5" stroke="#87cefa" stroke-width="1"/>
<circle cx="579.5" cy="64.3" r="1.4" fill="none" stroke="#a6d67e" stroke-width="0.9"/>
<path d="M578.3 63.1l2.4 2.4m0 -2.4l-2.4 2.4" stroke="#a6d67e" stroke-width="0.8"/>
<path d="M577.3 70.6l2 2m0 -2l-2 2" stroke="#a6d67e" stroke-width="0.8"/>
<circle cx="576.4" cy="76.5" r="1.4" fill="none" stroke="#a6d67e" stroke-width="0.9"/>
<path d="M582.7 56.9l2.8 2.8m0 -2.8l-2.8 2.8" stroke="#a00030" stroke-width="1.0"/>
<line x1="597" y1="50.2" x2="589.5" y2="55.5" stroke="#000" stroke-width="0.9"/>
<polygon points="587.2,57.1 590.15,52.56 592.45,55.84" fill="#000"/>
<text x="597.00" y="49.60" font-size="11.2" text-anchor="start" fill="#000" >rs12671707</text>
<text x="36.60" y="143.60" font-size="10.5" text-anchor="start" fill="#000" >b</text>
<text x="103.60" y="133.40" font-size="9.2" text-anchor="end" fill="#000" >GWAS locus</text>
<text x="103.80" y="149.60" font-size="9.0" text-anchor="end" fill="#000" >ELMO1</text>
<text x="103.80" y="167.00" font-size="9.0" text-anchor="end" fill="#000" >ELMO1</text>
<text x="370.8" y="124.4" font-size="11.25" text-anchor="middle"><tspan font-style="italic">ELMO1</tspan> GWAS locus</text>
<text x="370.80" y="142.60" font-size="11.27" text-anchor="middle" fill="#000" >Whole blood eQTLs</text>
<text x="370.90" y="159.00" font-size="11.21" text-anchor="middle" fill="#000" >Stomach eQTLs</text>
<rect x="110" y="129.0" width="565" height="3.7" fill="#cbcbcb"/>
<rect x="110" y="145.4" width="565" height="3.7" fill="#cbcbcb"/>
<rect x="110" y="162.8" width="565" height="3.7" fill="#cbcbcb"/>
<rect x="554" y="128.8" width="30.6" height="4.1" fill="#e23a8e"/>
<rect x="585.4" y="145.2" width="1.0" height="4.1" fill="#1f9d74"/>
<rect x="588.6" y="145.2" width="1.0" height="4.1" fill="#1f9d74"/>
<rect x="591.8" y="145.2" width="5.2" height="4.1" fill="#1f9d74"/>
<rect x="599.2" y="145.2" width="2.0" height="4.1" fill="#1f9d74"/>
<rect x="208.6" y="162.8" width="0.8" height="3.7" fill="#6464c8"/>
<rect x="211.8" y="162.8" width="0.8" height="3.7" fill="#6464c8"/>
<line x1="110" y1="192.8" x2="179.6" y2="192.8" stroke="#000" stroke-width="0.6"/>
<path d="M111.5 192.8h0.01M114.5 192.8h0.01M117.5 192.8h0.01M120.5 192.8h0.01M123.5 192.8h0.01M126.5 192.8h0.01M129.5 192.8h0.01M132.5 192.8h0.01M135.5 192.8h0.01M138.5 192.8h0.01M141.5 192.8h0.01M144.5 192.8h0.01M147.5 192.8h0.01M150.5 192.8h0.01M153.5 192.8h0.01M156.5 192.8h0.01M159.5 192.8h0.01M162.5 192.8h0.01M165.5 192.8h0.01M168.5 192.8h0.01M171.5 192.8h0.01M174.5 192.8h0.01M177.5 192.8h0.01" stroke="#000" stroke-width="1.5" stroke-linecap="round"/>
<rect x="114.5" y="188.8" width="5.4" height="8" fill="#555"/>
<rect x="114.70" y="188.80" width="0.6" height="8" fill="#111"/>
<rect x="116.50" y="188.80" width="0.6" height="8" fill="#111"/>
<rect x="118.10" y="188.80" width="0.6" height="8" fill="#111"/>
<rect x="119.30" y="188.80" width="0.6" height="8" fill="#111"/>
<rect x="123.85" y="188.80" width="1.1" height="8" fill="#000"/>
<rect x="127.40" y="188.80" width="1.0" height="8" fill="#777"/>
<rect x="139.80" y="188.80" width="1.0" height="8" fill="#333"/>
<rect x="148.65" y="188.80" width="1.1" height="8" fill="#000"/>
<rect x="156.70" y="188.80" width="1.0" height="8" fill="#222"/>
<rect x="179.20" y="188.80" width="0.8" height="8" fill="#000"/>
<text x="186.80" y="195.10" font-size="9.3" text-anchor="start" fill="#000" >AOAH</text>
<rect x="296.6" y="178" width="0.9" height="4" fill="#888"/>
<text x="304.00" y="182.60" font-size="9.1" text-anchor="start" fill="#000" >MIR1200</text>
<line x1="257" y1="192.8" x2="614.6" y2="192.8" stroke="#000" stroke-width="0.6"/>
<path d="M258.5 192.8h0.01M261.5 192.8h0.01M264.5 192.8h0.01M267.5 192.8h0.01M270.5 192.8h0.01M273.5 192.8h0.01M276.5 192.8h0.01M279.5 192.8h0.01M282.5 192.8h0.01M285.5 192.8h0.01M288.5 192.8h0.01M291.5 192.8h0.01M294.5 192.8h0.01M297.5 192.8h0.01M300.5 192.8h0.01M303.5 192.8h0.01M306.5 192.8h0.01M309.5 192.8h0.01M312.5 192.8h0.01M315.5 192.8h0.01M318.5 192.8h0.01M321.5 192.8h0.01M324.5 192.8h0.01M327.5 192.8h0.01M330.5 192.8h0.01M333.5 192.8h0.01M336.5 192.8h0.01M339.5 192.8h0.01M342.5 192.8h0.01M345.5 192.8h0.01M348.5 192.8h0.01M351.5 192.8h0.01M354.5 192.8h0.01M357.5 192.8h0.01M360.5 192.8h0.01M363.5 192.8h0.01M366.5 192.8h0.01M369.5 192.8h0.01M372.5 192.8h0.01M375.5 192.8h0.01M378.5 192.8h0.01M381.5 192.8h0.01M384.5 192.8h0.01M387.5 192.8h0.01M390.5 192.8h0.01M393.5 192.8h0.01M396.5 192.8h0.01M399.5 192.8h0.01M402.5 192.8h0.01M405.5 192.8h0.01M408.5 192.8h0.01M411.5 192.8h0.01M414.5 192.8h0.01M417.5 192.8h0.01M420.5 192.8h0.01M423.5 192.8h0.01M426.5 192.8h0.01M429.5 192.8h0.01M432.5 192.8h0.01M435.5 192.8h0.01M438.5 192.8h0.01M441.5 192.8h0.01M444.5 192.8h0.01M447.5 192.8h0.01M450.5 192.8h0.01M453.5 192.8h0.01M456.5 192.8h0.01M459.5 192.8h0.01M462.5 192.8h0.01M465.5 192.8h0.01M468.5 192.8h0.01M471.5 192.8h0.01M474.5 192.8h0.01M477.5 192.8h0.01M480.5 192.8h0.01M483.5 192.8h0.01M486.5 192.8h0.01M489.5 192.8h0.01M492.5 192.8h0.01M495.5 192.8h0.01M498.5 192.8h0.01M501.5 192.8h0.01M504.5 192.8h0.01M507.5 192.8h0.01M510.5 192.8h0.01M513.5 192.8h0.01M516.5 192.8h0.01M519.5 192.8h0.01M522.5 192.8h0.01M525.5 192.8h0.01M528.5 192.8h0.01M531.5 192.8h0.01M534.5 192.8h0.01M537.5 192.8h0.01M540.5 192.8h0.01M543.5 192.8h0.01M546.5 192.8h0.01M549.5 192.8h0.01M552.5 192.8h0.01M555.5 192.8h0.01M558.5 192.8h0.01M561.5 192.8h0.01M564.5 192.8h0.01M567.5 192.8h0.01M570.5 192.8h0.01M573.5 192.8h0.01M576.5 192.8h0.01M579.5 192.8h0.01M582.5 192.8h0.01M585.5 192.8h0.01M588.5 192.8h0.01M591.5 192.8h0.01M594.5 192.8h0.01M597.5 192.8h0.01M600.5 192.8h0.01M603.5 192.8h0.01M606.5 192.8h0.01M609.5 192.8h0.01M612.5 192.8h0.01" stroke="#000" stroke-width="1.5" stroke-linecap="round"/>
<rect x="256.6" y="189" width="1.4" height="7.6" fill="#000"/>
<rect x="261.55" y="188.80" width="0.9" height="8" fill="#000"/>
<rect x="266.05" y="188.80" width="0.9" height="8" fill="#000"/>
<rect x="270.75" y="188.80" width="0.9" height="8" fill="#000"/>
<rect x="275.55" y="188.80" width="0.9" height="8" fill="#000"/>
<rect x="279.75" y="188.80" width="0.9" height="8" fill="#000"/>
<rect x="282.75" y="188.80" width="0.9" height="8" fill="#000"/>
<rect x="336.15" y="188.80" width="0.9" height="8" fill="#333"/>
<rect x="352.95" y="188.80" width="0.9" height="8" fill="#000"/>
<rect x="403.15" y="188.80" width="0.9" height="8" fill="#000"/>
<rect x="424.55" y="188.80" width="0.9" height="8" fill="#000"/>
<rect x="471.85" y="188.80" width="0.9" height="8" fill="#000"/>
<rect x="473.55" y="188.80" width="0.9" height="8" fill="#333"/>
<rect x="475.35" y="188.80" width="0.9" height="8" fill="#000"/>
<rect x="478.15" y="188.80" width="0.9" height="8" fill="#000"/>
<rect x="480.15" y="188.80" width="0.9" height="8" fill="#000"/>
<rect x="485.15" y="188.80" width="0.9" height="8" fill="#222"/>
<rect x="491.55" y="188.80" width="0.9" height="8" fill="#222"/>
<rect x="496.55" y="188.80" width="0.9" height="8" fill="#444"/>
<rect x="500.95" y="188.80" width="0.9" height="8" fill="#000"/>
<rect x="508.35" y="188.80" width="0.9" height="8" fill="#222"/>
<rect x="510.55" y="188.80" width="0.9" height="8" fill="#000"/>
<rect x="534.15" y="188.80" width="0.9" height="8" fill="#000"/>
<rect x="550.55" y="188.80" width="0.9" height="8" fill="#777"/>
<rect x="614.15" y="188.80" width="0.9" height="8" fill="#000"/>
<rect x="335.6" y="191.3" width="2" height="3" fill="#000"/>
<rect x="556.4" y="191.3" width="2" height="3" fill="#000"/>
<rect x="483.0" y="191.3" width="2" height="3" fill="#000"/>
<text x="622.40" y="195.10" font-size="9.1" text-anchor="start" fill="#000" >ELMO1</text>
<rect x="110.9" y="204.6" width="330.7" height="3.4" fill="#fff" stroke="#222" stroke-width="0.9"/>
<rect x="441.6" y="204.3" width="233.4" height="4" fill="#7a7a7a" stroke="#444" stroke-width="0.6"/>
<line x1="111.40" y1="208.3" x2="111.40" y2="210.6" stroke="#333" stroke-width="0.7"/>
<line x1="171.42" y1="208.3" x2="171.42" y2="210.6" stroke="#333" stroke-width="0.7"/>
<line x1="231.44" y1="208.3" x2="231.44" y2="210.6" stroke="#333" stroke-width="0.7"/>
<line x1="291.46" y1="208.3" x2="291.46" y2="210.6" stroke="#333" stroke-width="0.7"/>
<line x1="351.48" y1="208.3" x2="351.48" y2="210.6" stroke="#333" stroke-width="0.7"/>
<line x1="411.50" y1="208.3" x2="411.50" y2="210.6" stroke="#333" stroke-width="0.7"/>
<line x1="471.52" y1="208.3" x2="471.52" y2="210.6" stroke="#333" stroke-width="0.7"/>
<line x1="531.54" y1="208.3" x2="531.54" y2="210.6" stroke="#333" stroke-width="0.7"/>
<line x1="591.56" y1="208.3" x2="591.56" y2="210.6" stroke="#333" stroke-width="0.7"/>
<line x1="651.58" y1="208.3" x2="651.58" y2="210.6" stroke="#333" stroke-width="0.7"/>
<text x="141.50" y="216.70" font-size="8.8" text-anchor="middle" fill="#000" >36.7</text>
<text x="201.52" y="216.70" font-size="8.8" text-anchor="middle" fill="#000" >36.8</text>
<text x="261.54" y="216.70" font-size="8.8" text-anchor="middle" fill="#000" >36.9</text>
<text x="321.56" y="216.70" font-size="8.8" text-anchor="middle" fill="#000" >37</text>
<text x="381.58" y="216.70" font-size="8.8" text-anchor="middle" fill="#000" >37.1</text>
<text x="441.60" y="216.70" font-size="8.8" text-anchor="middle" fill="#000" >37.2</text>
<text x="501.62" y="216.70" font-size="8.8" text-anchor="middle" fill="#000" >37.3</text>
<text x="561.64" y="216.70" font-size="8.8" text-anchor="middle" fill="#000" >37.4</text>
<text x="621.66" y="216.70" font-size="8.8" text-anchor="middle" fill="#000" >37.5</text>
<text x="102.80" y="210.80" font-size="10.1" text-anchor="end" fill="#000" >Chromosome 7</text>
<text x="65.00" y="219.30" font-size="8.7" text-anchor="middle" fill="#000" >(Mb)</text>
<line x1="72.4" y1="390.86" x2="209.6" y2="390.86" stroke="#f3f3f3" stroke-width="0.6"/>
<line x1="72.4" y1="362.49" x2="209.6" y2="362.49" stroke="#f3f3f3" stroke-width="0.6"/>
<line x1="72.4" y1="334.11" x2="209.6" y2="334.11" stroke="#f3f3f3" stroke-width="0.6"/>
<line x1="72.4" y1="305.74" x2="209.6" y2="305.74" stroke="#f3f3f3" stroke-width="0.6"/>
<line x1="72.4" y1="405.05" x2="209.6" y2="405.05" stroke="#e6e6e6" stroke-width="1"/>
<line x1="72.4" y1="376.68" x2="209.6" y2="376.68" stroke="#e6e6e6" stroke-width="1"/>
<line x1="72.4" y1="348.30" x2="209.6" y2="348.30" stroke="#e6e6e6" stroke-width="1"/>
<line x1="72.4" y1="319.93" x2="209.6" y2="319.93" stroke="#e6e6e6" stroke-width="1"/>
<line x1="72.4" y1="291.55" x2="209.6" y2="291.55" stroke="#e6e6e6" stroke-width="1"/>
<line x1="98.12" y1="286.4" x2="98.12" y2="410.0" stroke="#e6e6e6" stroke-width="1"/>
<line x1="141.00" y1="286.4" x2="141.00" y2="410.0" stroke="#e6e6e6" stroke-width="1"/>
<line x1="183.88" y1="286.4" x2="183.88" y2="410.0" stroke="#e6e6e6" stroke-width="1"/>
<line x1="69.60" y1="405.05" x2="72.4" y2="405.05" stroke="#333" stroke-width="0.9"/>
<text x="68.80" y="408.15" font-size="8.8" text-anchor="end" fill="#5e5e5e" >-100</text>
<line x1="69.60" y1="376.68" x2="72.4" y2="376.68" stroke="#333" stroke-width="0.9"/>
<text x="68.80" y="379.78" font-size="8.8" text-anchor="end" fill="#5e5e5e" >-50</text>
<line x1="69.60" y1="348.30" x2="72.4" y2="348.30" stroke="#333" stroke-width="0.9"/>
<text x="68.80" y="351.40" font-size="8.8" text-anchor="end" fill="#5e5e5e" >0</text>
<line x1="69.60" y1="319.93" x2="72.4" y2="319.93" stroke="#333" stroke-width="0.9"/>
<text x="68.80" y="323.03" font-size="8.8" text-anchor="end" fill="#5e5e5e" >50</text>
<line x1="69.60" y1="291.55" x2="72.4" y2="291.55" stroke="#333" stroke-width="0.9"/>
<text x="68.80" y="294.65" font-size="8.8" text-anchor="end" fill="#5e5e5e" >100</text>
<line x1="98.12" y1="410.0" x2="98.12" y2="413.8" stroke="#333" stroke-width="0.9"/>
<text transform="translate(97.92,417.10) rotate(-45)" font-size="7.8" text-anchor="end" fill="#5e5e5e" dominant-baseline="hanging">GG</text>
<line x1="141.00" y1="410.0" x2="141.00" y2="413.8" stroke="#333" stroke-width="0.9"/>
<text transform="translate(140.80,417.10) rotate(-45)" font-size="7.8" text-anchor="end" fill="#5e5e5e" dominant-baseline="hanging">GA</text>
<line x1="183.88" y1="410.0" x2="183.88" y2="413.8" stroke="#333" stroke-width="0.9"/>
<text transform="translate(183.68,417.10) rotate(-45)" font-size="7.8" text-anchor="end" fill="#5e5e5e" dominant-baseline="hanging">AA</text>
<line x1="98.12" y1="291.55" x2="98.12" y2="354.37" stroke="#505050" stroke-width="0.8"/>
<line x1="96.12" y1="354.37" x2="100.12" y2="354.37" stroke="#505050" stroke-width="0.8"/>
<line x1="96.12" y1="291.55" x2="100.12" y2="291.55" stroke="#505050" stroke-width="0.8"/>
<rect x="84.19" y="318.68" width="27.87" height="23.72" fill="none" stroke="#505050" stroke-width="0.8"/>
<line x1="84.19" y1="333.20" x2="112.06" y2="333.20" stroke="#333" stroke-width="1.2"/>
<line x1="141.00" y1="316.52" x2="141.00" y2="366.18" stroke="#505050" stroke-width="0.8"/>
<line x1="139.00" y1="366.18" x2="143.00" y2="366.18" stroke="#505050" stroke-width="0.8"/>
<line x1="139.00" y1="316.52" x2="143.00" y2="316.52" stroke="#505050" stroke-width="0.8"/>
<rect x="127.07" y="328.21" width="27.87" height="15.38" fill="none" stroke="#505050" stroke-width="0.8"/>
<line x1="127.07" y1="338.31" x2="154.93" y2="338.31" stroke="#333" stroke-width="1.2"/>
<line x1="183.88" y1="319.53" x2="183.88" y2="377.41" stroke="#505050" stroke-width="0.8"/>
<line x1="181.88" y1="377.41" x2="185.88" y2="377.41" stroke="#505050" stroke-width="0.8"/>
<line x1="181.88" y1="319.53" x2="185.88" y2="319.53" stroke="#505050" stroke-width="0.8"/>
<rect x="169.94" y="339.22" width="27.87" height="18.16" fill="none" stroke="#505050" stroke-width="0.8"/>
<line x1="169.94" y1="347.51" x2="197.81" y2="347.51" stroke="#333" stroke-width="1.2"/>
<circle cx="91.4" cy="291.6" r="1.1" fill="#a8123c"/>
<circle cx="91.0" cy="327.9" r="1.1" fill="#a8123c"/>
<circle cx="107.9" cy="338.5" r="1.1" fill="#d6287f"/>
<circle cx="107.4" cy="354.5" r="1.1" fill="#d6287f"/>
<circle cx="126.7" cy="316.5" r="1.1" fill="#a8123c"/>
<circle cx="126.9" cy="319.2" r="1.1" fill="#a8123c"/>
<circle cx="126.4" cy="327.5" r="1.1" fill="#a8123c"/>
<circle cx="127.5" cy="327.3" r="1.1" fill="#a8123c"/>
<circle cx="128.5" cy="327.8" r="1.1" fill="#a8123c"/>
<circle cx="129.5" cy="327.5" r="1.1" fill="#a8123c"/>
<circle cx="126.5" cy="333.5" r="1.1" fill="#a8123c"/>
<circle cx="127.0" cy="337.6" r="1.1" fill="#a8123c"/>
<circle cx="128.0" cy="337.0" r="1.1" fill="#a8123c"/>
<circle cx="130.0" cy="341.6" r="1.1" fill="#a8123c"/>
<circle cx="129.0" cy="344.7" r="1.1" fill="#a8123c"/>
<circle cx="126.0" cy="352.0" r="1.1" fill="#a8123c"/>
<circle cx="126.8" cy="352.2" r="1.1" fill="#a8123c"/>
<circle cx="130.0" cy="366.3" r="1.1" fill="#a8123c"/>
<circle cx="135.0" cy="338.5" r="1.1" fill="#2b2ba0"/>
<circle cx="137.0" cy="342.0" r="1.1" fill="#2b2ba0"/>
<circle cx="133.0" cy="344.5" r="1.1" fill="#2b2ba0"/>
<circle cx="137.0" cy="346.4" r="1.1" fill="#2b2ba0"/>
<circle cx="143.0" cy="337.0" r="1.1" fill="#9467bd"/>
<circle cx="146.0" cy="338.5" r="1.1" fill="#4daa5e"/>
<circle cx="148.0" cy="344.5" r="1.1" fill="#4daa5e"/>
<circle cx="146.0" cy="348.5" r="1.1" fill="#4daa5e"/>
<circle cx="147.6" cy="295.2" r="1.1" fill="#4daa5e"/>
<circle cx="153.6" cy="338.2" r="1.1" fill="#d6287f"/>
<circle cx="154.5" cy="338.0" r="1.1" fill="#d6287f"/>
<circle cx="152.6" cy="351.5" r="1.1" fill="#d6287f"/>
<circle cx="179.0" cy="319.2" r="1.1" fill="#2b2ba0"/>
<circle cx="197.9" cy="340.4" r="1.1" fill="#d6287f"/>
<circle cx="195.4" cy="395.0" r="1.1" fill="#d6287f"/>
<circle cx="183.3" cy="328.5" r="1.1" fill="#9467bd"/>
<circle cx="183.3" cy="338.6" r="1.1" fill="#9467bd"/>
<circle cx="183.0" cy="345.0" r="1.1" fill="#9467bd"/>
<circle cx="183.5" cy="357.0" r="1.1" fill="#9467bd"/>
<circle cx="186.5" cy="343.0" r="1.1" fill="#9467bd"/>
<circle cx="190.0" cy="325.0" r="1.1" fill="#4daa5e"/>
<circle cx="189.5" cy="328.0" r="1.1" fill="#4daa5e"/>
<circle cx="192.0" cy="331.5" r="1.1" fill="#4daa5e"/>
<circle cx="190.0" cy="339.0" r="1.1" fill="#4daa5e"/>
<circle cx="193.0" cy="339.5" r="1.1" fill="#4daa5e"/>
<circle cx="190.5" cy="349.0" r="1.1" fill="#4daa5e"/>
<circle cx="191.5" cy="354.6" r="1.1" fill="#4daa5e"/>
<circle cx="190.0" cy="363.0" r="1.1" fill="#4daa5e"/>
<circle cx="171.4" cy="360.6" r="1.1" fill="#a8123c"/>
<circle cx="171.4" cy="362.5" r="1.1" fill="#a8123c"/>
<circle cx="169.9" cy="331.6" r="1.1" fill="#a8123c"/>
<circle cx="168.6" cy="329.2" r="1.1" fill="#a8123c"/>
<circle cx="170.2" cy="335.5" r="1.1" fill="#a8123c"/>
<circle cx="168.9" cy="352.6" r="1.1" fill="#a8123c"/>
<circle cx="173.3" cy="362.1" r="1.1" fill="#a8123c"/>
<circle cx="169.7" cy="366.1" r="1.1" fill="#a8123c"/>
<circle cx="169.2" cy="333.4" r="1.1" fill="#a8123c"/>
<circle cx="169.9" cy="348.5" r="1.1" fill="#a8123c"/>
<circle cx="171.9" cy="350.3" r="1.1" fill="#a8123c"/>
<circle cx="172.1" cy="333.1" r="1.1" fill="#a8123c"/>
<circle cx="173.1" cy="343.6" r="1.1" fill="#a8123c"/>
<circle cx="172.6" cy="335.8" r="1.1" fill="#a8123c"/>
<circle cx="172.6" cy="340.7" r="1.1" fill="#a8123c"/>
<circle cx="172.7" cy="355.1" r="1.1" fill="#a8123c"/>
<circle cx="171.8" cy="341.9" r="1.1" fill="#a8123c"/>
<circle cx="168.4" cy="339.7" r="1.1" fill="#a8123c"/>
<circle cx="173.0" cy="339.0" r="1.1" fill="#a8123c"/>
<circle cx="171.7" cy="349.7" r="1.1" fill="#a8123c"/>
<circle cx="171.7" cy="339.5" r="1.1" fill="#a8123c"/>
<circle cx="169.0" cy="337.4" r="1.1" fill="#a8123c"/>
<circle cx="173.4" cy="344.6" r="1.1" fill="#a8123c"/>
<circle cx="171.7" cy="349.2" r="1.1" fill="#a8123c"/>
<circle cx="169.5" cy="336.6" r="1.1" fill="#a8123c"/>
<circle cx="168.4" cy="356.3" r="1.1" fill="#a8123c"/>
<circle cx="169.0" cy="359.1" r="1.1" fill="#a8123c"/>
<circle cx="170.2" cy="353.1" r="1.1" fill="#a8123c"/>
<circle cx="169.0" cy="354.7" r="1.1" fill="#a8123c"/>
<circle cx="169.6" cy="344.2" r="1.1" fill="#a8123c"/>
<circle cx="171.0" cy="337.8" r="1.1" fill="#a8123c"/>
<circle cx="169.6" cy="354.9" r="1.1" fill="#a8123c"/>
<circle cx="169.8" cy="344.5" r="1.1" fill="#a8123c"/>
<circle cx="172.3" cy="340.6" r="1.1" fill="#a8123c"/>
<circle cx="169.3" cy="340.5" r="1.1" fill="#a8123c"/>
<circle cx="170.3" cy="344.1" r="1.1" fill="#a8123c"/>
<circle cx="171.6" cy="346.8" r="1.1" fill="#a8123c"/>
<circle cx="172.8" cy="336.3" r="1.1" fill="#a8123c"/>
<circle cx="171.8" cy="355.9" r="1.1" fill="#a8123c"/>
<circle cx="169.5" cy="335.7" r="1.1" fill="#a8123c"/>
<circle cx="177.3" cy="330.7" r="1.1" fill="#2b2ba0"/>
<circle cx="177.4" cy="355.2" r="1.1" fill="#2b2ba0"/>
<circle cx="175.5" cy="330.8" r="1.1" fill="#2b2ba0"/>
<circle cx="177.5" cy="333.1" r="1.1" fill="#2b2ba0"/>
<circle cx="176.2" cy="344.1" r="1.1" fill="#2b2ba0"/>
<circle cx="175.6" cy="328.8" r="1.1" fill="#2b2ba0"/>
<circle cx="176.9" cy="345.2" r="1.1" fill="#2b2ba0"/>
<circle cx="180.0" cy="348.7" r="1.1" fill="#2b2ba0"/>
<circle cx="175.4" cy="335.1" r="1.1" fill="#2b2ba0"/>
<circle cx="178.9" cy="349.1" r="1.1" fill="#2b2ba0"/>
<circle cx="179.6" cy="365.5" r="1.1" fill="#2b2ba0"/>
<circle cx="179.5" cy="330.5" r="1.1" fill="#2b2ba0"/>
<circle cx="180.0" cy="347.5" r="1.1" fill="#2b2ba0"/>
<circle cx="176.3" cy="333.0" r="1.1" fill="#2b2ba0"/>
<circle cx="179.6" cy="338.7" r="1.1" fill="#2b2ba0"/>
<circle cx="175.4" cy="340.2" r="1.1" fill="#2b2ba0"/>
<circle cx="179.9" cy="345.4" r="1.1" fill="#2b2ba0"/>
<circle cx="178.9" cy="335.0" r="1.1" fill="#2b2ba0"/>
<circle cx="177.4" cy="341.6" r="1.1" fill="#2b2ba0"/>
<circle cx="176.1" cy="350.9" r="1.1" fill="#2b2ba0"/>
<circle cx="176.9" cy="336.2" r="1.1" fill="#2b2ba0"/>
<circle cx="180.2" cy="346.0" r="1.1" fill="#2b2ba0"/>
<circle cx="176.0" cy="333.3" r="1.1" fill="#2b2ba0"/>
<circle cx="178.5" cy="346.9" r="1.1" fill="#2b2ba0"/>
<circle cx="175.1" cy="345.7" r="1.1" fill="#2b2ba0"/>
<circle cx="178.9" cy="347.5" r="1.1" fill="#2b2ba0"/>
<circle cx="176.2" cy="346.5" r="1.1" fill="#2b2ba0"/>
<circle cx="178.2" cy="350.6" r="1.1" fill="#2b2ba0"/>
<circle cx="175.8" cy="354.7" r="1.1" fill="#2b2ba0"/>
<circle cx="180.0" cy="353.0" r="1.1" fill="#2b2ba0"/>
<circle cx="179.5" cy="342.9" r="1.1" fill="#2b2ba0"/>
<circle cx="179.8" cy="337.9" r="1.1" fill="#2b2ba0"/>
<circle cx="176.2" cy="349.1" r="1.1" fill="#2b2ba0"/>
<circle cx="179.8" cy="335.2" r="1.1" fill="#2b2ba0"/>
<circle cx="176.1" cy="334.0" r="1.1" fill="#2b2ba0"/>
<circle cx="177.3" cy="336.8" r="1.1" fill="#2b2ba0"/>
<circle cx="176.0" cy="353.2" r="1.1" fill="#2b2ba0"/>
<circle cx="178.1" cy="358.4" r="1.1" fill="#2b2ba0"/>
<circle cx="177.1" cy="351.3" r="1.1" fill="#2b2ba0"/>
<circle cx="175.1" cy="358.6" r="1.1" fill="#2b2ba0"/>
<circle cx="176.2" cy="345.9" r="1.1" fill="#2b2ba0"/>
<circle cx="177.7" cy="358.6" r="1.1" fill="#2b2ba0"/>
<rect x="72.4" y="286.4" width="137.20" height="123.60" fill="none" stroke="#555" stroke-width="0.9"/>
<text transform="translate(49.90,348.20) rotate(-90)" font-size="10.45" text-anchor="middle" fill="#111">Hedonic gLMS rating</text>
<text x="37.00" y="264.50" font-size="10.5" text-anchor="start" fill="#000" >c</text>
<text x="72.40" y="266.6" font-size="10.1" font-style="italic" fill="#111">effect size=25.67</text>
<text x="72.40" y="278.0" font-size="10.1" fill="#111"><tspan font-style="italic">p-value</tspan>=1.67×10<tspan font-size="6.5" dy="-3.6">-8</tspan></text>
<text x="138.30" y="439.6" font-size="10.25" text-anchor="middle" fill="#111"><tspan font-style="italic">ELMO1</tspan> rs12671707 genotype</text>
<line x1="264.2" y1="391.06" x2="403.8" y2="391.06" stroke="#f3f3f3" stroke-width="0.6"/>
<line x1="264.2" y1="362.59" x2="403.8" y2="362.59" stroke="#f3f3f3" stroke-width="0.6"/>
<line x1="264.2" y1="334.11" x2="403.8" y2="334.11" stroke="#f3f3f3" stroke-width="0.6"/>
<line x1="264.2" y1="305.64" x2="403.8" y2="305.64" stroke="#f3f3f3" stroke-width="0.6"/>
<line x1="264.2" y1="405.30" x2="403.8" y2="405.30" stroke="#e6e6e6" stroke-width="1"/>
<line x1="264.2" y1="376.82" x2="403.8" y2="376.82" stroke="#e6e6e6" stroke-width="1"/>
<line x1="264.2" y1="348.35" x2="403.8" y2="348.35" stroke="#e6e6e6" stroke-width="1"/>
<line x1="264.2" y1="319.88" x2="403.8" y2="319.88" stroke="#e6e6e6" stroke-width="1"/>
<line x1="264.2" y1="291.40" x2="403.8" y2="291.40" stroke="#e6e6e6" stroke-width="1"/>
<line x1="290.38" y1="286.5" x2="290.38" y2="410.0" stroke="#e6e6e6" stroke-width="1"/>
<line x1="334.00" y1="286.5" x2="334.00" y2="410.0" stroke="#e6e6e6" stroke-width="1"/>
<line x1="377.62" y1="286.5" x2="377.62" y2="410.0" stroke="#e6e6e6" stroke-width="1"/>
<line x1="261.40" y1="405.30" x2="264.2" y2="405.30" stroke="#333" stroke-width="0.9"/>
<text x="260.60" y="408.40" font-size="8.8" text-anchor="end" fill="#5e5e5e" >0</text>
<line x1="261.40" y1="376.82" x2="264.2" y2="376.82" stroke="#333" stroke-width="0.9"/>
<text x="260.60" y="379.93" font-size="8.8" text-anchor="end" fill="#5e5e5e" >25</text>
<line x1="261.40" y1="348.35" x2="264.2" y2="348.35" stroke="#333" stroke-width="0.9"/>
<text x="260.60" y="351.45" font-size="8.8" text-anchor="end" fill="#5e5e5e" >50</text>
<line x1="261.40" y1="319.88" x2="264.2" y2="319.88" stroke="#333" stroke-width="0.9"/>
<text x="260.60" y="322.98" font-size="8.8" text-anchor="end" fill="#5e5e5e" >75</text>
<line x1="261.40" y1="291.40" x2="264.2" y2="291.40" stroke="#333" stroke-width="0.9"/>
<text x="260.60" y="294.50" font-size="8.8" text-anchor="end" fill="#5e5e5e" >100</text>
<line x1="290.38" y1="410.0" x2="290.38" y2="413.8" stroke="#333" stroke-width="0.9"/>
<text transform="translate(290.18,417.10) rotate(-45)" font-size="7.8" text-anchor="end" fill="#5e5e5e" dominant-baseline="hanging">GG</text>
<line x1="334.00" y1="410.0" x2="334.00" y2="413.8" stroke="#333" stroke-width="0.9"/>
<text transform="translate(333.80,417.10) rotate(-45)" font-size="7.8" text-anchor="end" fill="#5e5e5e" dominant-baseline="hanging">GA</text>
<line x1="377.62" y1="410.0" x2="377.62" y2="413.8" stroke="#333" stroke-width="0.9"/>
<text transform="translate(377.43,417.10) rotate(-45)" font-size="7.8" text-anchor="end" fill="#5e5e5e" dominant-baseline="hanging">AA</text>
<line x1="290.38" y1="372.27" x2="290.38" y2="405.30" stroke="#505050" stroke-width="0.8"/>
<line x1="288.38" y1="405.30" x2="292.38" y2="405.30" stroke="#505050" stroke-width="0.8"/>
<line x1="288.38" y1="372.27" x2="292.38" y2="372.27" stroke="#505050" stroke-width="0.8"/>
<rect x="276.20" y="372.27" width="28.36" height="31.32" fill="none" stroke="#505050" stroke-width="0.8"/>
<line x1="276.20" y1="397.33" x2="304.55" y2="397.33" stroke="#333" stroke-width="1.2"/>
<line x1="334.00" y1="364.30" x2="334.00" y2="405.30" stroke="#505050" stroke-width="0.8"/>
<line x1="332.00" y1="405.30" x2="336.00" y2="405.30" stroke="#505050" stroke-width="0.8"/>
<line x1="332.00" y1="364.30" x2="336.00" y2="364.30" stroke="#505050" stroke-width="0.8"/>
<rect x="319.82" y="387.08" width="28.36" height="17.08" fill="none" stroke="#505050" stroke-width="0.8"/>
<line x1="319.82" y1="401.31" x2="348.18" y2="401.31" stroke="#333" stroke-width="1.2"/>
<line x1="377.62" y1="358.60" x2="377.62" y2="405.30" stroke="#505050" stroke-width="0.8"/>
<line x1="375.62" y1="405.30" x2="379.62" y2="405.30" stroke="#505050" stroke-width="0.8"/>
<line x1="375.62" y1="358.60" x2="379.62" y2="358.60" stroke="#505050" stroke-width="0.8"/>
<rect x="363.45" y="384.23" width="28.36" height="17.65" fill="none" stroke="#505050" stroke-width="0.8"/>
<line x1="363.45" y1="393.91" x2="391.80" y2="393.91" stroke="#333" stroke-width="1.2"/>
<circle cx="283.2" cy="312.4" r="1.1" fill="#a8123c"/>
<circle cx="283.2" cy="403.0" r="1.1" fill="#a8123c"/>
<circle cx="300.4" cy="391.7" r="1.1" fill="#d6287f"/>
<circle cx="298.0" cy="405.2" r="1.1" fill="#d6287f"/>
<circle cx="318.8" cy="364.3" r="1.1" fill="#a8123c"/>
<circle cx="320.5" cy="374.5" r="1.1" fill="#a8123c"/>
<circle cx="322.3" cy="373.5" r="1.1" fill="#a8123c"/>
<circle cx="321.8" cy="372.8" r="1.1" fill="#a8123c"/>
<circle cx="320.5" cy="379.0" r="1.1" fill="#a8123c"/>
<circle cx="320.5" cy="386.0" r="1.1" fill="#a8123c"/>
<circle cx="320.5" cy="391.0" r="1.1" fill="#a8123c"/>
<circle cx="320.5" cy="398.0" r="1.1" fill="#a8123c"/>
<circle cx="323.0" cy="398.0" r="1.1" fill="#a8123c"/>
<circle cx="319.5" cy="401.5" r="1.1" fill="#a8123c"/>
<circle cx="320.5" cy="402.5" r="1.1" fill="#a8123c"/>
<circle cx="321.5" cy="403.5" r="1.1" fill="#a8123c"/>
<circle cx="322.5" cy="404.5" r="1.1" fill="#a8123c"/>
<circle cx="319.8" cy="404.8" r="1.1" fill="#a8123c"/>
<circle cx="321.0" cy="405.0" r="1.1" fill="#a8123c"/>
<circle cx="323.0" cy="402.0" r="1.1" fill="#a8123c"/>
<circle cx="327.0" cy="385.0" r="1.1" fill="#2b2ba0"/>
<circle cx="328.0" cy="399.5" r="1.1" fill="#2b2ba0"/>
<circle cx="327.5" cy="405.0" r="1.1" fill="#2b2ba0"/>
<circle cx="342.0" cy="386.0" r="1.1" fill="#4daa5e"/>
<circle cx="338.5" cy="397.5" r="1.1" fill="#4daa5e"/>
<circle cx="341.0" cy="404.0" r="1.1" fill="#4daa5e"/>
<circle cx="342.5" cy="403.5" r="1.1" fill="#4daa5e"/>
<circle cx="334.5" cy="405.0" r="1.1" fill="#9467bd"/>
<circle cx="348.8" cy="377.5" r="1.1" fill="#d6287f"/>
<circle cx="347.0" cy="403.0" r="1.1" fill="#d6287f"/>
<circle cx="346.5" cy="405.0" r="1.1" fill="#d6287f"/>
<circle cx="363.1" cy="292.5" r="1.1" fill="#a8123c"/>
<circle cx="363.5" cy="355.0" r="1.1" fill="#a8123c"/>
<circle cx="367.0" cy="354.0" r="1.1" fill="#a8123c"/>
<circle cx="365.5" cy="359.0" r="1.1" fill="#a8123c"/>
<circle cx="364.0" cy="365.0" r="1.1" fill="#a8123c"/>
<circle cx="366.0" cy="365.0" r="1.1" fill="#a8123c"/>
<circle cx="367.0" cy="366.0" r="1.1" fill="#a8123c"/>
<circle cx="367.0" cy="369.5" r="1.1" fill="#a8123c"/>
<circle cx="363.0" cy="375.5" r="1.1" fill="#a8123c"/>
<circle cx="366.0" cy="374.5" r="1.1" fill="#a8123c"/>
<circle cx="376.5" cy="385.0" r="1.1" fill="#9467bd"/>
<circle cx="377.0" cy="391.5" r="1.1" fill="#9467bd"/>
<circle cx="378.0" cy="398.5" r="1.1" fill="#9467bd"/>
<circle cx="377.5" cy="404.0" r="1.1" fill="#9467bd"/>
<circle cx="382.0" cy="365.4" r="1.1" fill="#4daa5e"/>
<circle cx="386.0" cy="391.5" r="1.1" fill="#4daa5e"/>
<circle cx="384.0" cy="399.0" r="1.1" fill="#4daa5e"/>
<circle cx="385.0" cy="401.5" r="1.1" fill="#4daa5e"/>
<circle cx="383.0" cy="404.0" r="1.1" fill="#4daa5e"/>
<circle cx="393.5" cy="365.8" r="1.1" fill="#d6287f"/>
<circle cx="390.0" cy="405.0" r="1.1" fill="#d6287f"/>
<circle cx="365.2" cy="405.1" r="1.1" fill="#a8123c"/>
<circle cx="365.9" cy="385.5" r="1.1" fill="#a8123c"/>
<circle cx="367.1" cy="385.1" r="1.1" fill="#a8123c"/>
<circle cx="368.0" cy="391.6" r="1.1" fill="#a8123c"/>
<circle cx="363.7" cy="404.3" r="1.1" fill="#a8123c"/>
<circle cx="364.3" cy="390.3" r="1.1" fill="#a8123c"/>
<circle cx="364.4" cy="396.9" r="1.1" fill="#a8123c"/>
<circle cx="362.6" cy="389.5" r="1.1" fill="#a8123c"/>
<circle cx="363.4" cy="400.9" r="1.1" fill="#a8123c"/>
<circle cx="362.5" cy="395.4" r="1.1" fill="#a8123c"/>
<circle cx="363.9" cy="391.5" r="1.1" fill="#a8123c"/>
<circle cx="365.6" cy="398.0" r="1.1" fill="#a8123c"/>
<circle cx="363.3" cy="386.1" r="1.1" fill="#a8123c"/>
<circle cx="363.2" cy="404.3" r="1.1" fill="#a8123c"/>
<circle cx="363.3" cy="383.5" r="1.1" fill="#a8123c"/>
<circle cx="365.4" cy="394.7" r="1.1" fill="#a8123c"/>
<circle cx="367.4" cy="381.4" r="1.1" fill="#a8123c"/>
<circle cx="363.8" cy="384.2" r="1.1" fill="#a8123c"/>
<circle cx="365.7" cy="391.4" r="1.1" fill="#a8123c"/>
<circle cx="364.7" cy="402.5" r="1.1" fill="#a8123c"/>
<circle cx="366.1" cy="401.8" r="1.1" fill="#a8123c"/>
<circle cx="367.8" cy="386.8" r="1.1" fill="#a8123c"/>
<circle cx="367.7" cy="390.3" r="1.1" fill="#a8123c"/>
<circle cx="362.8" cy="403.1" r="1.1" fill="#a8123c"/>
<circle cx="363.1" cy="380.4" r="1.1" fill="#a8123c"/>
<circle cx="364.1" cy="387.3" r="1.1" fill="#a8123c"/>
<circle cx="367.8" cy="402.0" r="1.1" fill="#a8123c"/>
<circle cx="364.8" cy="393.4" r="1.1" fill="#a8123c"/>
<circle cx="367.2" cy="400.4" r="1.1" fill="#a8123c"/>
<circle cx="366.1" cy="393.0" r="1.1" fill="#a8123c"/>
<circle cx="369.5" cy="365.6" r="1.1" fill="#2b2ba0"/>
<circle cx="372.0" cy="373.5" r="1.1" fill="#2b2ba0"/>
<circle cx="372.6" cy="380.7" r="1.1" fill="#2b2ba0"/>
<circle cx="373.3" cy="364.4" r="1.1" fill="#2b2ba0"/>
<circle cx="369.3" cy="380.6" r="1.1" fill="#2b2ba0"/>
<circle cx="371.6" cy="364.2" r="1.1" fill="#2b2ba0"/>
<circle cx="372.1" cy="365.9" r="1.1" fill="#2b2ba0"/>
<circle cx="370.1" cy="368.4" r="1.1" fill="#2b2ba0"/>
<circle cx="371.4" cy="397.1" r="1.1" fill="#2b2ba0"/>
<circle cx="369.3" cy="398.8" r="1.1" fill="#2b2ba0"/>
<circle cx="371.8" cy="391.9" r="1.1" fill="#2b2ba0"/>
<circle cx="372.0" cy="400.2" r="1.1" fill="#2b2ba0"/>
<circle cx="369.0" cy="392.0" r="1.1" fill="#2b2ba0"/>
<circle cx="372.1" cy="397.9" r="1.1" fill="#2b2ba0"/>
<circle cx="371.9" cy="384.6" r="1.1" fill="#2b2ba0"/>
<circle cx="373.3" cy="399.9" r="1.1" fill="#2b2ba0"/>
<circle cx="370.0" cy="390.9" r="1.1" fill="#2b2ba0"/>
<circle cx="373.3" cy="385.2" r="1.1" fill="#2b2ba0"/>
<circle cx="370.8" cy="404.3" r="1.1" fill="#2b2ba0"/>
<circle cx="373.1" cy="385.9" r="1.1" fill="#2b2ba0"/>
<circle cx="372.3" cy="389.1" r="1.1" fill="#2b2ba0"/>
<circle cx="372.0" cy="399.4" r="1.1" fill="#2b2ba0"/>
<circle cx="369.6" cy="385.6" r="1.1" fill="#2b2ba0"/>
<circle cx="370.0" cy="386.7" r="1.1" fill="#2b2ba0"/>
<circle cx="369.2" cy="383.4" r="1.1" fill="#2b2ba0"/>
<circle cx="370.8" cy="390.6" r="1.1" fill="#2b2ba0"/>
<circle cx="369.4" cy="394.7" r="1.1" fill="#2b2ba0"/>
<circle cx="373.2" cy="394.6" r="1.1" fill="#2b2ba0"/>
<circle cx="370.6" cy="397.8" r="1.1" fill="#2b2ba0"/>
<circle cx="371.0" cy="384.4" r="1.1" fill="#2b2ba0"/>
<circle cx="371.2" cy="380.4" r="1.1" fill="#2b2ba0"/>
<circle cx="372.0" cy="384.1" r="1.1" fill="#2b2ba0"/>
<circle cx="370.7" cy="404.4" r="1.1" fill="#2b2ba0"/>
<circle cx="372.5" cy="401.1" r="1.1" fill="#2b2ba0"/>
<circle cx="371.9" cy="396.1" r="1.1" fill="#2b2ba0"/>
<circle cx="372.2" cy="404.4" r="1.1" fill="#2b2ba0"/>
<circle cx="369.9" cy="399.4" r="1.1" fill="#2b2ba0"/>
<circle cx="370.4" cy="386.5" r="1.1" fill="#2b2ba0"/>
<rect x="264.2" y="286.5" width="139.60" height="123.50" fill="none" stroke="#555" stroke-width="0.9"/>
<text transform="translate(239.20,348.25) rotate(-90)" font-size="10.45" text-anchor="middle" fill="#111">Bitter gLMS rating</text>
<text x="226.20" y="264.50" font-size="10.5" text-anchor="start" fill="#000" >d</text>
<text x="264.20" y="266.6" font-size="10.1" font-style="italic" fill="#111">sqrt(effect size)=-0.81</text>
<text x="264.20" y="278.0" font-size="10.1" fill="#111"><tspan font-style="italic">p-value=0.03</tspan></text>
<text x="332.80" y="439.6" font-size="10.25" text-anchor="middle" fill="#111"><tspan font-style="italic">ELMO1</tspan> rs12671707 genotype</text>
<line x1="460.3" y1="391.06" x2="600.3" y2="391.06" stroke="#f3f3f3" stroke-width="0.6"/>
<line x1="460.3" y1="362.59" x2="600.3" y2="362.59" stroke="#f3f3f3" stroke-width="0.6"/>
<line x1="460.3" y1="334.11" x2="600.3" y2="334.11" stroke="#f3f3f3" stroke-width="0.6"/>
<line x1="460.3" y1="305.64" x2="600.3" y2="305.64" stroke="#f3f3f3" stroke-width="0.6"/>
<line x1="460.3" y1="405.30" x2="600.3" y2="405.30" stroke="#e6e6e6" stroke-width="1"/>
<line x1="460.3" y1="376.82" x2="600.3" y2="376.82" stroke="#e6e6e6" stroke-width="1"/>
<line x1="460.3" y1="348.35" x2="600.3" y2="348.35" stroke="#e6e6e6" stroke-width="1"/>
<line x1="460.3" y1="319.88" x2="600.3" y2="319.88" stroke="#e6e6e6" stroke-width="1"/>
<line x1="460.3" y1="291.40" x2="600.3" y2="291.40" stroke="#e6e6e6" stroke-width="1"/>
<line x1="486.55" y1="286.5" x2="486.55" y2="410.0" stroke="#e6e6e6" stroke-width="1"/>
<line x1="530.30" y1="286.5" x2="530.30" y2="410.0" stroke="#e6e6e6" stroke-width="1"/>
<line x1="574.05" y1="286.5" x2="574.05" y2="410.0" stroke="#e6e6e6" stroke-width="1"/>
<line x1="457.50" y1="405.30" x2="460.3" y2="405.30" stroke="#333" stroke-width="0.9"/>
<text x="456.70" y="408.40" font-size="8.8" text-anchor="end" fill="#5e5e5e" >0</text>
<line x1="457.50" y1="376.82" x2="460.3" y2="376.82" stroke="#333" stroke-width="0.9"/>
<text x="456.70" y="379.93" font-size="8.8" text-anchor="end" fill="#5e5e5e" >25</text>
<line x1="457.50" y1="348.35" x2="460.3" y2="348.35" stroke="#333" stroke-width="0.9"/>
<text x="456.70" y="351.45" font-size="8.8" text-anchor="end" fill="#5e5e5e" >50</text>
<line x1="457.50" y1="319.88" x2="460.3" y2="319.88" stroke="#333" stroke-width="0.9"/>
<text x="456.70" y="322.98" font-size="8.8" text-anchor="end" fill="#5e5e5e" >75</text>
<line x1="457.50" y1="291.40" x2="460.3" y2="291.40" stroke="#333" stroke-width="0.9"/>
<text x="456.70" y="294.50" font-size="8.8" text-anchor="end" fill="#5e5e5e" >100</text>
<line x1="486.55" y1="410.0" x2="486.55" y2="413.8" stroke="#333" stroke-width="0.9"/>
<text transform="translate(486.35,417.10) rotate(-45)" font-size="7.8" text-anchor="end" fill="#5e5e5e" dominant-baseline="hanging">GG</text>
<line x1="530.30" y1="410.0" x2="530.30" y2="413.8" stroke="#333" stroke-width="0.9"/>
<text transform="translate(530.10,417.10) rotate(-45)" font-size="7.8" text-anchor="end" fill="#5e5e5e" dominant-baseline="hanging">GA</text>
<line x1="574.05" y1="410.0" x2="574.05" y2="413.8" stroke="#333" stroke-width="0.9"/>
<text transform="translate(573.85,417.10) rotate(-45)" font-size="7.8" text-anchor="end" fill="#5e5e5e" dominant-baseline="hanging">AA</text>
<line x1="486.55" y1="350.63" x2="486.55" y2="399.61" stroke="#505050" stroke-width="0.8"/>
<line x1="484.55" y1="399.61" x2="488.55" y2="399.61" stroke="#505050" stroke-width="0.8"/>
<line x1="484.55" y1="350.63" x2="488.55" y2="350.63" stroke="#505050" stroke-width="0.8"/>
<rect x="472.33" y="350.63" width="28.44" height="23.35" fill="none" stroke="#505050" stroke-width="0.8"/>
<line x1="472.33" y1="364.87" x2="500.77" y2="364.87" stroke="#333" stroke-width="1.2"/>
<line x1="530.30" y1="363.16" x2="530.30" y2="403.02" stroke="#505050" stroke-width="0.8"/>
<line x1="528.30" y1="403.02" x2="532.30" y2="403.02" stroke="#505050" stroke-width="0.8"/>
<line x1="528.30" y1="363.16" x2="532.30" y2="363.16" stroke="#505050" stroke-width="0.8"/>
<rect x="516.08" y="376.82" width="28.44" height="15.38" fill="none" stroke="#505050" stroke-width="0.8"/>
<line x1="516.08" y1="385.94" x2="544.52" y2="385.94" stroke="#333" stroke-width="1.2"/>
<line x1="574.05" y1="340.38" x2="574.05" y2="405.30" stroke="#505050" stroke-width="0.8"/>
<line x1="572.05" y1="405.30" x2="576.05" y2="405.30" stroke="#505050" stroke-width="0.8"/>
<line x1="572.05" y1="340.38" x2="576.05" y2="340.38" stroke="#505050" stroke-width="0.8"/>
<rect x="559.83" y="371.13" width="28.44" height="22.78" fill="none" stroke="#505050" stroke-width="0.8"/>
<line x1="559.83" y1="385.37" x2="588.27" y2="385.37" stroke="#333" stroke-width="1.2"/>
<circle cx="479.0" cy="308.6" r="1.1" fill="#a8123c"/>
<circle cx="479.0" cy="364.0" r="1.1" fill="#a8123c"/>
<circle cx="492.7" cy="364.9" r="1.1" fill="#d6287f"/>
<circle cx="496.4" cy="399.5" r="1.1" fill="#d6287f"/>
<circle cx="515.5" cy="346.5" r="1.1" fill="#a8123c"/>
<circle cx="515.5" cy="348.5" r="1.1" fill="#a8123c"/>
<circle cx="515.0" cy="364.3" r="1.1" fill="#a8123c"/>
<circle cx="518.0" cy="363.0" r="1.1" fill="#a8123c"/>
<circle cx="515.0" cy="375.0" r="1.1" fill="#a8123c"/>
<circle cx="518.6" cy="378.5" r="1.1" fill="#a8123c"/>
<circle cx="515.5" cy="381.0" r="1.1" fill="#a8123c"/>
<circle cx="516.5" cy="385.0" r="1.1" fill="#a8123c"/>
<circle cx="517.0" cy="386.5" r="1.1" fill="#a8123c"/>
<circle cx="518.0" cy="388.0" r="1.1" fill="#a8123c"/>
<circle cx="517.5" cy="392.0" r="1.1" fill="#a8123c"/>
<circle cx="519.0" cy="393.0" r="1.1" fill="#a8123c"/>
<circle cx="516.5" cy="396.5" r="1.1" fill="#a8123c"/>
<circle cx="515.5" cy="398.0" r="1.1" fill="#a8123c"/>
<circle cx="517.0" cy="398.0" r="1.1" fill="#a8123c"/>
<circle cx="518.5" cy="398.0" r="1.1" fill="#a8123c"/>
<circle cx="518.5" cy="403.0" r="1.1" fill="#a8123c"/>
<circle cx="525.5" cy="369.8" r="1.1" fill="#2b2ba0"/>
<circle cx="522.0" cy="384.5" r="1.1" fill="#2b2ba0"/>
<circle cx="523.0" cy="385.0" r="1.1" fill="#2b2ba0"/>
<circle cx="525.0" cy="385.5" r="1.1" fill="#2b2ba0"/>
<circle cx="525.0" cy="393.5" r="1.1" fill="#2b2ba0"/>
<circle cx="532.0" cy="384.0" r="1.1" fill="#9467bd"/>
<circle cx="535.3" cy="338.6" r="1.1" fill="#4daa5e"/>
<circle cx="537.5" cy="365.0" r="1.1" fill="#4daa5e"/>
<circle cx="536.5" cy="366.5" r="1.1" fill="#4daa5e"/>
<circle cx="536.5" cy="386.5" r="1.1" fill="#4daa5e"/>
<circle cx="535.5" cy="403.5" r="1.1" fill="#4daa5e"/>
<circle cx="544.5" cy="377.8" r="1.1" fill="#d6287f"/>
<circle cx="546.5" cy="387.5" r="1.1" fill="#d6287f"/>
<circle cx="544.0" cy="388.0" r="1.1" fill="#d6287f"/>
<circle cx="568.0" cy="299.5" r="1.1" fill="#2b2ba0"/>
<circle cx="588.7" cy="308.6" r="1.1" fill="#d6287f"/>
<circle cx="585.0" cy="388.5" r="1.1" fill="#d6287f"/>
<circle cx="586.0" cy="391.0" r="1.1" fill="#d6287f"/>
<circle cx="575.0" cy="347.0" r="1.1" fill="#9467bd"/>
<circle cx="576.0" cy="386.0" r="1.1" fill="#9467bd"/>
<circle cx="575.5" cy="395.0" r="1.1" fill="#9467bd"/>
<circle cx="580.0" cy="350.5" r="1.1" fill="#4daa5e"/>
<circle cx="583.0" cy="368.0" r="1.1" fill="#4daa5e"/>
<circle cx="580.0" cy="368.5" r="1.1" fill="#4daa5e"/>
<circle cx="579.0" cy="376.0" r="1.1" fill="#4daa5e"/>
<circle cx="582.0" cy="404.0" r="1.1" fill="#4daa5e"/>
<circle cx="580.0" cy="405.0" r="1.1" fill="#4daa5e"/>
<circle cx="564.0" cy="357.0" r="1.1" fill="#a8123c"/>
<circle cx="564.2" cy="362.5" r="1.1" fill="#a8123c"/>
<circle cx="562.3" cy="349.0" r="1.1" fill="#a8123c"/>
<circle cx="558.1" cy="355.7" r="1.1" fill="#a8123c"/>
<circle cx="563.3" cy="350.4" r="1.1" fill="#a8123c"/>
<circle cx="558.5" cy="345.1" r="1.1" fill="#a8123c"/>
<circle cx="559.3" cy="358.9" r="1.1" fill="#a8123c"/>
<circle cx="558.0" cy="349.6" r="1.1" fill="#a8123c"/>
<circle cx="559.9" cy="393.4" r="1.1" fill="#a8123c"/>
<circle cx="565.2" cy="365.8" r="1.1" fill="#a8123c"/>
<circle cx="558.8" cy="402.4" r="1.1" fill="#a8123c"/>
<circle cx="565.1" cy="370.9" r="1.1" fill="#a8123c"/>
<circle cx="560.4" cy="385.9" r="1.1" fill="#a8123c"/>
<circle cx="560.3" cy="381.7" r="1.1" fill="#a8123c"/>
<circle cx="561.5" cy="375.3" r="1.1" fill="#a8123c"/>
<circle cx="558.4" cy="368.4" r="1.1" fill="#a8123c"/>
<circle cx="559.2" cy="368.7" r="1.1" fill="#a8123c"/>
<circle cx="562.6" cy="392.9" r="1.1" fill="#a8123c"/>
<circle cx="559.9" cy="396.7" r="1.1" fill="#a8123c"/>
<circle cx="563.3" cy="378.7" r="1.1" fill="#a8123c"/>
<circle cx="561.6" cy="372.5" r="1.1" fill="#a8123c"/>
<circle cx="564.8" cy="387.4" r="1.1" fill="#a8123c"/>
<circle cx="558.4" cy="371.2" r="1.1" fill="#a8123c"/>
<circle cx="563.1" cy="380.4" r="1.1" fill="#a8123c"/>
<circle cx="563.2" cy="374.2" r="1.1" fill="#a8123c"/>
<circle cx="563.8" cy="397.1" r="1.1" fill="#a8123c"/>
<circle cx="558.7" cy="388.4" r="1.1" fill="#a8123c"/>
<circle cx="559.4" cy="393.3" r="1.1" fill="#a8123c"/>
<circle cx="563.9" cy="396.7" r="1.1" fill="#a8123c"/>
<circle cx="559.7" cy="368.7" r="1.1" fill="#a8123c"/>
<circle cx="562.8" cy="387.6" r="1.1" fill="#a8123c"/>
<circle cx="559.0" cy="372.7" r="1.1" fill="#a8123c"/>
<circle cx="562.3" cy="369.3" r="1.1" fill="#a8123c"/>
<circle cx="562.6" cy="374.6" r="1.1" fill="#a8123c"/>
<circle cx="559.9" cy="381.9" r="1.1" fill="#a8123c"/>
<circle cx="561.9" cy="394.0" r="1.1" fill="#a8123c"/>
<circle cx="558.2" cy="394.0" r="1.1" fill="#a8123c"/>
<circle cx="559.6" cy="376.6" r="1.1" fill="#a8123c"/>
<circle cx="562.7" cy="392.6" r="1.1" fill="#a8123c"/>
<circle cx="562.5" cy="401.1" r="1.1" fill="#a8123c"/>
<circle cx="559.5" cy="377.4" r="1.1" fill="#a8123c"/>
<circle cx="562.8" cy="375.4" r="1.1" fill="#a8123c"/>
<circle cx="566.1" cy="344.3" r="1.1" fill="#2b2ba0"/>
<circle cx="570.4" cy="356.5" r="1.1" fill="#2b2ba0"/>
<circle cx="570.0" cy="359.2" r="1.1" fill="#2b2ba0"/>
<circle cx="570.6" cy="346.0" r="1.1" fill="#2b2ba0"/>
<circle cx="567.2" cy="354.3" r="1.1" fill="#2b2ba0"/>
<circle cx="565.4" cy="352.1" r="1.1" fill="#2b2ba0"/>
<circle cx="565.6" cy="340.7" r="1.1" fill="#2b2ba0"/>
<circle cx="568.6" cy="342.8" r="1.1" fill="#2b2ba0"/>
<circle cx="571.5" cy="357.5" r="1.1" fill="#2b2ba0"/>
<circle cx="568.2" cy="343.7" r="1.1" fill="#2b2ba0"/>
<circle cx="565.8" cy="381.3" r="1.1" fill="#2b2ba0"/>
<circle cx="568.6" cy="375.2" r="1.1" fill="#2b2ba0"/>
<circle cx="570.0" cy="382.2" r="1.1" fill="#2b2ba0"/>
<circle cx="570.4" cy="364.5" r="1.1" fill="#2b2ba0"/>
<circle cx="565.5" cy="376.3" r="1.1" fill="#2b2ba0"/>
<circle cx="568.4" cy="370.6" r="1.1" fill="#2b2ba0"/>
<circle cx="569.7" cy="369.3" r="1.1" fill="#2b2ba0"/>
<circle cx="567.2" cy="380.0" r="1.1" fill="#2b2ba0"/>
<circle cx="570.0" cy="392.4" r="1.1" fill="#2b2ba0"/>
<circle cx="567.6" cy="378.8" r="1.1" fill="#2b2ba0"/>
<circle cx="571.5" cy="399.2" r="1.1" fill="#2b2ba0"/>
<circle cx="569.3" cy="364.4" r="1.1" fill="#2b2ba0"/>
<circle cx="568.2" cy="386.7" r="1.1" fill="#2b2ba0"/>
<circle cx="567.0" cy="361.6" r="1.1" fill="#2b2ba0"/>
<circle cx="571.9" cy="398.2" r="1.1" fill="#2b2ba0"/>
<circle cx="565.9" cy="379.6" r="1.1" fill="#2b2ba0"/>
<circle cx="569.3" cy="372.6" r="1.1" fill="#2b2ba0"/>
<circle cx="565.5" cy="391.5" r="1.1" fill="#2b2ba0"/>
<circle cx="570.4" cy="378.4" r="1.1" fill="#2b2ba0"/>
<circle cx="565.6" cy="376.5" r="1.1" fill="#2b2ba0"/>
<circle cx="565.7" cy="400.5" r="1.1" fill="#2b2ba0"/>
<circle cx="565.4" cy="372.1" r="1.1" fill="#2b2ba0"/>
<circle cx="570.4" cy="365.7" r="1.1" fill="#2b2ba0"/>
<circle cx="565.7" cy="363.0" r="1.1" fill="#2b2ba0"/>
<circle cx="566.1" cy="382.3" r="1.1" fill="#2b2ba0"/>
<circle cx="570.8" cy="367.1" r="1.1" fill="#2b2ba0"/>
<rect x="460.3" y="286.5" width="140.00" height="123.50" fill="none" stroke="#555" stroke-width="0.9"/>
<text transform="translate(434.20,348.25) rotate(-90)" font-size="10.45" text-anchor="middle" fill="#111">Sweet gLMS rating</text>
<text x="422.80" y="264.50" font-size="10.5" text-anchor="start" fill="#000" >e</text>
<text x="460.30" y="266.6" font-size="10.1" font-style="italic" fill="#111">effect size=4.19</text>
<text x="460.30" y="278.0" font-size="10.1" fill="#111"><tspan font-style="italic">p-value=0.20</tspan></text>
<text x="528.50" y="439.6" font-size="10.25" text-anchor="middle" fill="#111"><tspan font-style="italic">ELMO1</tspan> rs12671707 genotype</text>
<text x="615.80" y="317.20" font-size="9.0" text-anchor="start" fill="#000" >Genetic ancestry</text>
<circle cx="617.8" cy="328.90" r="2.0" fill="#a8123c"/>
<text x="624.60" y="332.10" font-size="9.2" text-anchor="start" fill="#000" >African</text>
<circle cx="617.8" cy="342.47" r="2.0" fill="#2b2ba0"/>
<text x="624.60" y="345.67" font-size="9.2" text-anchor="start" fill="#000" >European</text>
<circle cx="617.8" cy="356.04" r="2.0" fill="#9467bd"/>
<text x="624.60" y="359.24" font-size="9.2" text-anchor="start" fill="#000" >American</text>
<circle cx="617.8" cy="369.61" r="2.0" fill="#4daa5e"/>
<text x="624.60" y="372.81" font-size="9.2" text-anchor="start" fill="#000" >South Asian</text>
<circle cx="617.8" cy="383.18" r="2.0" fill="#d6287f"/>
<text x="624.60" y="386.38" font-size="9.2" text-anchor="start" fill="#000" >East Asian</text>
</svg>
</body></html>
